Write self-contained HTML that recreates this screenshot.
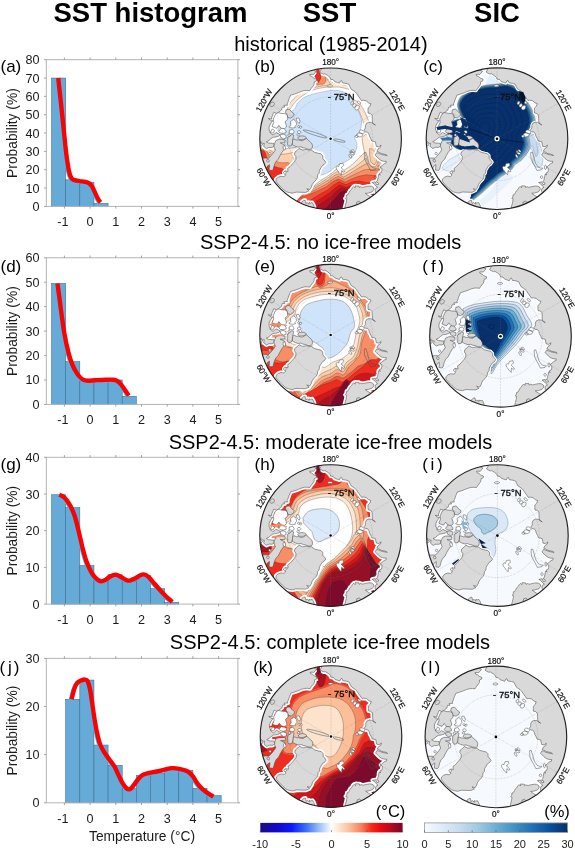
<!DOCTYPE html>
<html lang="en"><head><meta charset="utf-8"><title>SST histogram, SST and SIC</title>
<style>html,body{margin:0;padding:0;background:#fff}svg{display:block}text{font-family:"Liberation Sans", Arial, sans-serif;fill:#1a1a1a}.h1{font-size:27.5px;font-weight:bold;fill:#000}.rt{font-size:20px;fill:#000}.tl{font-size:12.6px}.yl{font-size:13.8px}.tag{font-size:17px;fill:#000}.ml{font-size:8.2px;fill:#111;stroke:#111;stroke-width:0.2px}.ml75{font-size:9.4px;fill:#111;stroke:#111;stroke-width:0.35px}.cb{font-size:11px}.un{font-size:16.5px;fill:#000}</style></head><body>
<svg width="575" height="848" viewBox="0 0 575 848">
<defs><clipPath id="mclip"><circle r="70.80"/></clipPath>
<linearGradient id="gsst" x1="0" x2="1" y1="0" y2="0"><stop offset="0" stop-color="#1a0a8c"/><stop offset="0.12" stop-color="#1208c8"/><stop offset="0.22" stop-color="#0a1aff"/><stop offset="0.32" stop-color="#3c6cf8"/><stop offset="0.4" stop-color="#8ab4f6"/><stop offset="0.47" stop-color="#dbe9fb"/><stop offset="0.5" stop-color="#ffffff"/><stop offset="0.55" stop-color="#fde6d3"/><stop offset="0.63" stop-color="#fbbc98"/><stop offset="0.71" stop-color="#f8805e"/><stop offset="0.78" stop-color="#f52a1a"/><stop offset="0.84" stop-color="#ec0a10"/><stop offset="0.91" stop-color="#bb0a1e"/><stop offset="1" stop-color="#78062b"/></linearGradient>
<linearGradient id="gsic" x1="0" x2="1" y1="0" y2="0"><stop offset="0" stop-color="#f7fbff"/><stop offset="0.125" stop-color="#deebf7"/><stop offset="0.25" stop-color="#c6dbef"/><stop offset="0.375" stop-color="#9ecae1"/><stop offset="0.5" stop-color="#6baed6"/><stop offset="0.625" stop-color="#4292c6"/><stop offset="0.75" stop-color="#2171b5"/><stop offset="0.875" stop-color="#08519c"/><stop offset="1" stop-color="#08306b"/></linearGradient>
<path id="landhalo" d="M-8.8,-71.7L-9.7,-68.7L-10.9,-66.7L-9.5,-65.7L-7.0,-64.6L-5.7,-65.0L-2.8,-63.2L-0.5,-61.2L0.0,-59.5L2.6,-59.1L4.0,-57.3L6.9,-56.2L8.8,-55.6L9.9,-57.8L11.0,-58.2L11.9,-55.9L15.4,-55.4L18.2,-54.5L19.1,-52.4L20.6,-49.6L24.1,-47.4L25.8,-45.5L28.3,-41.9L30.9,-38.2L32.8,-38.5L35.5,-38.0L38.2,-35.7L40.3,-35.1L39.3,-32.4L37.4,-30.6L37.4,-28.2L37.5,-25.7L39.8,-25.3L41.5,-23.5L41.6,-20.3L41.7,-18.1L42.0,-15.7L44.8,-13.7L43.4,-14.5L40.6,-16.4L38.1,-16.4L36.0,-15.6L34.8,-13.3L34.8,-10.6L33.3,-8.5L34.9,-6.8L36.9,-6.8L38.4,-4.7L38.8,-2.7L40.3,0.0L41.1,2.2L43.1,2.6L44.8,3.1L45.7,7.6L48.2,8.0L50.5,6.4L49.8,8.6L47.5,10.1L46.3,12.6L48.2,13.4L50.7,14.8L55.5,15.9L56.7,16.9L51.1,15.7L47.6,14.3L46.0,13.9L44.6,16.3L45.9,17.6L48.1,19.9L50.4,21.6L53.2,22.6L55.7,22.5L55.6,24.2L53.6,25.0L51.5,26.8L49.8,28.2L51.2,29.8L51.3,31.7L50.8,33.6L49.0,34.3L49.1,35.6L49.8,36.1L48.0,35.6L47.6,38.5L46.9,41.5L45.7,43.3L47.5,43.9L48.0,45.5L45.9,45.9L44.7,43.1L41.5,43.8L43.3,44.9L45.4,47.3L47.0,48.6L45.1,49.6L44.5,51.2L44.8,53.3L46.3,55.1L45.4,58.1L42.3,59.3L40.3,58.2L37.5,56.6L34.7,54.6L37.7,54.3L41.5,53.1L43.3,50.7L42.9,48.8L40.9,47.5L38.3,47.3L34.8,47.9L32.2,48.6L30.0,48.0L28.7,48.8L28.4,47.3L26.2,47.2L24.8,47.0L24.5,49.1L23.1,47.7L21.8,49.0L20.8,50.8L19.2,52.3L18.5,53.8L17.1,56.1L16.1,56.1L15.7,58.6L14.7,59.7L16.1,60.2L15.7,63.0L14.9,66.2L14.1,69.4L13.4,72.5L15.9,90.2L21.8,89.0L27.5,87.3L33.2,85.3L38.7,83.0L30.6,67.1L30.3,64.0L28.5,62.4L26.2,63.3L25.8,65.9L26.7,68.7L45.8,79.3L58.1,70.8L68.8,60.4L77.8,48.4L84.6,35.0L89.2,20.8L91.4,6.0L91.1,-9.0L88.5,-23.7L83.4,-37.8L76.1,-50.9L66.8,-62.6L55.7,-72.7L43.2,-80.8L29.4,-86.7L14.9,-90.4L0.0,-91.6L-1.6,-91.6L-4.8,-91.4L-8.0,-91.2L-11.2,-90.9ZM-18.7,-69.8L-16.4,-68.3L-14.4,-67.5L-17.2,-64.2L-18.5,-64.4L-20.9,-64.3L-20.4,-62.9L-18.5,-62.3L-16.8,-60.7L-13.9,-59.5L-14.2,-57.8L-16.3,-56.9L-16.6,-54.4L-17.6,-52.6L-19.7,-50.0L-20.9,-48.0L-23.6,-48.3L-26.2,-48.2L-29.5,-47.3L-32.3,-46.1L-36.2,-44.7L-40.0,-43.6L-41.5,-40.1L-42.9,-36.0L-43.6,-34.7L-43.0,-33.6L-46.8,-33.4L-45.8,-31.7L-48.4,-31.5L-49.0,-28.9L-52.0,-26.5L-54.2,-25.3L-56.8,-26.5L-58.9,-21.4L-58.9,-19.7L-62.3,-20.3L-59.4,-18.1L-57.8,-18.2L-60.2,-15.0L-61.5,-12.0L-61.5,-8.6L-60.7,-8.0L-60.4,-5.8L-57.6,-3.8L-54.5,-6.2L-51.8,-5.0L-50.4,-4.0L-51.9,-2.7L-54.8,-1.9L-57.7,-1.5L-59.8,0.0L-62.0,1.9L-64.3,3.0L-61.9,4.3L-58.4,4.5L-56.7,4.6L-56.4,7.4L-58.5,8.7L-61.5,8.6L-64.2,9.8L-66.9,7.6L-66.3,4.6L-67.7,4.7L-69.3,3.0L-72.2,3.8L-91.6,0.0L-90.4,-14.9L-86.7,-29.4L-80.8,-43.2L-72.7,-55.7L-62.6,-66.8L-50.9,-76.1L-37.8,-83.4L-23.7,-88.5ZM-31.6,9.6L-28.0,11.3L-25.7,10.9L-24.3,10.6L-21.9,11.2L-19.3,11.2L-16.0,13.5L-12.2,14.5L-9.7,15.0L-7.9,16.9L-7.8,19.7L-5.7,22.2L-4.8,23.5L-6.4,25.7L-8.2,26.7L-9.8,29.2L-11.2,31.6L-11.5,34.5L-13.0,36.1L-13.1,38.5L-14.4,41.0L-16.6,43.2L-18.4,45.6L-19.3,48.3L-20.8,50.8L-23.9,50.0L-21.5,52.0L-25.0,53.6L-29.7,53.5L-34.6,53.3L-38.1,54.4L-41.3,53.9L-44.4,52.9L-48.1,49.8L-51.5,46.4L-54.6,42.7L-54.6,40.4L-52.4,38.4L-49.6,37.4L-46.7,37.8L-45.1,36.5L-46.5,33.8L-45.3,32.0L-42.6,32.7L-42.9,29.5L-40.5,27.8L-38.6,25.6L-36.7,23.4L-34.8,20.9L-34.7,17.7L-36.2,15.7L-35.7,13.3L-33.3,11.5ZM-16.6,71.8L-16.4,68.0L-17.5,65.3L-18.5,63.8L-20.3,64.3L-21.6,63.7L-21.5,65.3L-23.6,63.7L-24.8,64.7L-25.1,63.4L-25.5,61.5L-26.9,61.7L-28.8,63.1L-30.0,67.4Z" fill="none" stroke="#ffffff" stroke-linejoin="round"/>
<path id="landmain" d="M-8.8,-71.7L-9.7,-68.7L-10.9,-66.7L-9.5,-65.7L-7.0,-64.6L-5.7,-65.0L-2.8,-63.2L-0.5,-61.2L0.0,-59.5L2.6,-59.1L4.0,-57.3L6.9,-56.2L8.8,-55.6L9.9,-57.8L11.0,-58.2L11.9,-55.9L15.4,-55.4L18.2,-54.5L19.1,-52.4L20.6,-49.6L24.1,-47.4L25.8,-45.5L28.3,-41.9L30.9,-38.2L32.8,-38.5L35.5,-38.0L38.2,-35.7L40.3,-35.1L39.3,-32.4L37.4,-30.6L37.4,-28.2L37.5,-25.7L39.8,-25.3L41.5,-23.5L41.6,-20.3L41.7,-18.1L42.0,-15.7L44.8,-13.7L43.4,-14.5L40.6,-16.4L38.1,-16.4L36.0,-15.6L34.8,-13.3L34.8,-10.6L33.3,-8.5L34.9,-6.8L36.9,-6.8L38.4,-4.7L38.8,-2.7L40.3,0.0L41.1,2.2L43.1,2.6L44.8,3.1L45.7,7.6L48.2,8.0L50.5,6.4L49.8,8.6L47.5,10.1L46.3,12.6L48.2,13.4L50.7,14.8L55.5,15.9L56.7,16.9L51.1,15.7L47.6,14.3L46.0,13.9L44.6,16.3L45.9,17.6L48.1,19.9L50.4,21.6L53.2,22.6L55.7,22.5L55.6,24.2L53.6,25.0L51.5,26.8L49.8,28.2L51.2,29.8L51.3,31.7L50.8,33.6L49.0,34.3L49.1,35.6L49.8,36.1L48.0,35.6L47.6,38.5L46.9,41.5L45.7,43.3L47.5,43.9L48.0,45.5L45.9,45.9L44.7,43.1L41.5,43.8L43.3,44.9L45.4,47.3L47.0,48.6L45.1,49.6L44.5,51.2L44.8,53.3L46.3,55.1L45.4,58.1L42.3,59.3L40.3,58.2L37.5,56.6L34.7,54.6L37.7,54.3L41.5,53.1L43.3,50.7L42.9,48.8L40.9,47.5L38.3,47.3L34.8,47.9L32.2,48.6L30.0,48.0L28.7,48.8L28.4,47.3L26.2,47.2L24.8,47.0L24.5,49.1L23.1,47.7L21.8,49.0L20.8,50.8L19.2,52.3L18.5,53.8L17.1,56.1L16.1,56.1L15.7,58.6L14.7,59.7L16.1,60.2L15.7,63.0L14.9,66.2L14.1,69.4L13.4,72.5L15.9,90.2L21.8,89.0L27.5,87.3L33.2,85.3L38.7,83.0L30.6,67.1L30.3,64.0L28.5,62.4L26.2,63.3L25.8,65.9L26.7,68.7L45.8,79.3L58.1,70.8L68.8,60.4L77.8,48.4L84.6,35.0L89.2,20.8L91.4,6.0L91.1,-9.0L88.5,-23.7L83.4,-37.8L76.1,-50.9L66.8,-62.6L55.7,-72.7L43.2,-80.8L29.4,-86.7L14.9,-90.4L0.0,-91.6L-1.6,-91.6L-4.8,-91.4L-8.0,-91.2L-11.2,-90.9ZM-18.7,-69.8L-16.4,-68.3L-14.4,-67.5L-17.2,-64.2L-18.5,-64.4L-20.9,-64.3L-20.4,-62.9L-18.5,-62.3L-16.8,-60.7L-13.9,-59.5L-14.2,-57.8L-16.3,-56.9L-16.6,-54.4L-17.6,-52.6L-19.7,-50.0L-20.9,-48.0L-23.6,-48.3L-26.2,-48.2L-29.5,-47.3L-32.3,-46.1L-36.2,-44.7L-40.0,-43.6L-41.5,-40.1L-42.9,-36.0L-43.6,-34.7L-43.0,-33.6L-46.8,-33.4L-45.8,-31.7L-48.4,-31.5L-49.0,-28.9L-52.0,-26.5L-54.2,-25.3L-56.8,-26.5L-58.9,-21.4L-58.9,-19.7L-62.3,-20.3L-59.4,-18.1L-57.8,-18.2L-60.2,-15.0L-61.5,-12.0L-61.5,-8.6L-60.7,-8.0L-60.4,-5.8L-57.6,-3.8L-54.5,-6.2L-51.8,-5.0L-50.4,-4.0L-51.9,-2.7L-54.8,-1.9L-57.7,-1.5L-59.8,0.0L-62.0,1.9L-64.3,3.0L-61.9,4.3L-58.4,4.5L-56.7,4.6L-56.4,7.4L-58.5,8.7L-61.5,8.6L-64.2,9.8L-66.9,7.6L-66.3,4.6L-67.7,4.7L-69.3,3.0L-72.2,3.8L-91.6,0.0L-90.4,-14.9L-86.7,-29.4L-80.8,-43.2L-72.7,-55.7L-62.6,-66.8L-50.9,-76.1L-37.8,-83.4L-23.7,-88.5ZM-31.6,9.6L-28.0,11.3L-25.7,10.9L-24.3,10.6L-21.9,11.2L-19.3,11.2L-16.0,13.5L-12.2,14.5L-9.7,15.0L-7.9,16.9L-7.8,19.7L-5.7,22.2L-4.8,23.5L-6.4,25.7L-8.2,26.7L-9.8,29.2L-11.2,31.6L-11.5,34.5L-13.0,36.1L-13.1,38.5L-14.4,41.0L-16.6,43.2L-18.4,45.6L-19.3,48.3L-20.8,50.8L-23.9,50.0L-21.5,52.0L-25.0,53.6L-29.7,53.5L-34.6,53.3L-38.1,54.4L-41.3,53.9L-44.4,52.9L-48.1,49.8L-51.5,46.4L-54.6,42.7L-54.6,40.4L-52.4,38.4L-49.6,37.4L-46.7,37.8L-45.1,36.5L-46.5,33.8L-45.3,32.0L-42.6,32.7L-42.9,29.5L-40.5,27.8L-38.6,25.6L-36.7,23.4L-34.8,20.9L-34.7,17.7L-36.2,15.7L-35.7,13.3L-33.3,11.5ZM-16.6,71.8L-16.4,68.0L-17.5,65.3L-18.5,63.8L-20.3,64.3L-21.6,63.7L-21.5,65.3L-23.6,63.7L-24.8,64.7L-25.1,63.4L-25.5,61.5L-26.9,61.7L-28.8,63.1L-30.0,67.4Z" fill="#d9d9d9" stroke="#4a4a4a" stroke-width="0.55" stroke-linejoin="round"/>
<path id="Lellesmere" d="M-38.1,0.7L-38.2,3.3L-38.2,6.0L-35.7,7.3L-32.5,8.4L-29.7,8.0L-27.3,9.1L-25.5,9.3L-22.9,10.4L-19.7,10.5L-18.4,9.4L-18.1,6.6L-19.0,4.4L-20.7,2.9L-22.3,1.6L-24.0,-0.4L-26.5,0.9L-27.9,1.9L-29.9,1.8L-32.1,1.1L-34.1,1.2L-36.4,0.3Z" stroke="#4a4a4a" stroke-width="0.55" stroke-linejoin="round"/>
<path id="Laxel" d="M-33.0,-0.6L-31.2,-2.5L-28.6,-3.0L-26.1,-2.5L-24.3,-1.3L-25.1,-0.2L-27.1,0.7L-29.3,0.9L-31.3,0.7Z" stroke="#4a4a4a" stroke-width="0.55" stroke-linejoin="round"/>
<path id="Ldevon" d="M-39.2,6.9L-38.2,4.0L-37.8,0.3L-37.1,-2.6L-36.8,-3.5L-38.7,-4.4L-40.5,-2.8L-43.2,-1.1L-43.4,2.3L-43.0,6.0L-42.0,7.4Z" stroke="#4a4a4a" stroke-width="0.55" stroke-linejoin="round"/>
<path id="Lbaffin" d="M-45.4,1.2L-45.8,4.0L-50.4,4.0L-45.6,6.4L-45.7,9.3L-47.0,11.3L-48.7,13.5L-50.7,17.0L-52.4,20.6L-54.7,22.7L-56.3,26.2L-57.4,30.5L-58.4,31.7L-61.5,31.3L-61.1,26.0L-63.3,27.5L-65.2,31.1L-82.3,40.1L-84.3,35.8L-86.1,31.3L-87.6,26.8L-88.9,22.2L-69.8,18.7L-67.1,19.5L-65.1,19.3L-62.0,19.5L-59.7,17.1L-57.4,14.3L-55.2,11.2L-56.7,7.5L-56.1,4.9L-54.8,1.9L-52.0,0.5L-49.2,0.4Z" stroke="#4a4a4a" stroke-width="0.55" stroke-linejoin="round"/>
<path id="Lsouthampton" d="M-71.9,7.6L-69.3,7.0L-67.9,5.9L-69.2,4.2L-72.2,3.8Z" stroke="#4a4a4a" stroke-width="0.55" stroke-linejoin="round"/>
<path id="Lbanks" d="M-44.6,-29.0L-41.3,-29.7L-38.6,-26.5L-36.3,-24.9L-37.1,-22.7L-39.8,-20.7L-42.7,-21.3L-44.0,-24.9L-45.1,-26.5Z" stroke="#4a4a4a" stroke-width="0.55" stroke-linejoin="round"/>
<path id="Lvictoria" d="M-55.1,-24.5L-52.5,-26.2L-48.7,-25.3L-45.5,-25.2L-43.2,-23.5L-42.9,-19.6L-45.5,-17.0L-44.3,-13.5L-44.2,-11.8L-46.8,-9.5L-49.5,-10.5L-51.7,-13.4L-53.9,-10.5L-56.6,-11.5L-58.5,-12.4L-56.9,-16.3L-57.3,-19.7Z" stroke="#4a4a4a" stroke-width="0.55" stroke-linejoin="round"/>
<path id="Lpwales" d="M-51.8,-7.3L-49.5,-10.5L-46.6,-10.3L-44.5,-7.8L-44.5,-6.1L-47.4,-5.4L-50.3,-5.7Z" stroke="#4a4a4a" stroke-width="0.55" stroke-linejoin="round"/>
<path id="Lsomerset" d="M-50.4,-4.0L-47.5,-4.7L-44.5,-3.5L-44.6,-0.8L-47.2,0.0L-50.0,-1.7Z" stroke="#4a4a4a" stroke-width="0.55" stroke-linejoin="round"/>
<g id="landisl"><path d="M-41.6,-5.9L-41.2,-8.4L-38.1,-9.4L-36.5,-7.1L-37.2,-5.2L-39.4,-5.2ZM-41.8,-12.0L-39.8,-13.7L-40.3,-17.1L-37.3,-19.4L-35.6,-18.4L-34.5,-16.8L-34.0,-14.4L-35.7,-12.3L-35.1,-11.4L-37.7,-10.8L-40.0,-11.1ZM-33.9,-20.8L-31.7,-20.6L-30.5,-17.6L-31.4,-15.3L-33.3,-17.3L-34.3,-19.0ZM-60.3,-6.3L-58.4,-9.8L-56.0,-8.4L-57.2,-5.7ZM10.7,36.2L8.5,33.9L7.4,32.2L6.2,31.0L5.4,28.5L6.8,27.4L8.0,27.9L8.5,26.3L9.1,24.9L12.4,24.4L13.0,26.6L12.0,27.7L10.5,28.9L11.8,29.9L13.2,31.5L14.0,32.7L12.7,33.2L11.1,31.7L10.8,33.3L10.8,34.7ZM20.7,19.3L20.0,19.2L19.2,18.4L18.5,17.3L18.3,16.1L18.6,15.5L19.3,15.6L20.2,16.3L20.8,17.5L21.0,18.7ZM23.7,15.5L23.1,15.9L21.8,15.7L20.5,15.1L19.5,14.3L19.3,13.5L20.0,13.2L21.2,13.4L22.6,14.0L23.5,14.8ZM24.0,13.4L23.4,13.6L22.5,13.3L21.6,12.6L21.1,11.8L21.2,11.1L21.8,10.9L22.7,11.2L23.5,11.9L24.1,12.8ZM21.3,13.5L20.8,13.8L20.2,13.7L19.6,13.3L19.2,12.7L19.2,12.3L19.7,12.0L20.3,12.1L20.9,12.5L21.3,13.1ZM32.3,-4.2L31.8,-3.0L30.3,-2.1L28.4,-1.8L26.7,-2.3L25.9,-3.4L26.4,-4.7L27.9,-5.6L29.8,-5.8L31.5,-5.3ZM33.6,-6.1L32.8,-5.3L31.4,-5.0L29.8,-5.5L28.8,-6.5L28.6,-7.7L29.4,-8.5L30.9,-8.8L32.4,-8.3L33.4,-7.3ZM27.8,-2.7L27.6,-1.9L26.8,-1.4L25.7,-1.3L24.8,-1.7L24.4,-2.4L24.7,-3.1L25.5,-3.6L26.5,-3.7L27.4,-3.4ZM28.3,-33.1L28.8,-31.9L28.5,-30.5L27.5,-29.3L26.1,-28.7L24.9,-29.1L24.3,-30.3L24.6,-31.7L25.6,-33.0L27.0,-33.5ZM24.9,-34.9L25.4,-34.1L25.3,-33.0L24.6,-32.0L23.5,-31.5L22.6,-31.7L22.1,-32.5L22.2,-33.6L23.0,-34.6L24.0,-35.1ZM22.5,-37.5L22.9,-36.8L22.8,-35.7L22.2,-34.7L21.3,-34.0L20.5,-34.1L20.1,-34.8L20.2,-35.9L20.8,-36.9L21.7,-37.5ZM29.0,-37.1L29.8,-36.2L30.0,-35.4L29.6,-34.8L28.7,-34.8L27.7,-35.4L26.9,-36.3L26.6,-37.2L27.0,-37.7L28.0,-37.7ZM-0.5,-53.9L1.1,-53.7L2.0,-53.2L2.0,-52.6L1.1,-52.1L-0.5,-51.9L-2.0,-52.0L-2.9,-52.5L-2.9,-53.2L-2.0,-53.7ZM-33.2,-7.1L-32.7,-7.8L-31.7,-8.1L-30.6,-7.9L-29.9,-7.2L-29.7,-6.3L-30.2,-5.6L-31.2,-5.3L-32.3,-5.5L-33.1,-6.2ZM-33.8,-4.0L-33.5,-4.6L-32.8,-4.9L-32.0,-4.8L-31.4,-4.3L-31.2,-3.7L-31.5,-3.2L-32.2,-2.9L-33.0,-3.0L-33.6,-3.4ZM-33.0,-12.7L-32.6,-13.1L-31.9,-13.3L-31.2,-13.0L-30.7,-12.4L-30.7,-11.8L-31.2,-11.3L-31.9,-11.2L-32.5,-11.5L-33.0,-12.0ZM-30.9,-12.0L-30.4,-12.7L-29.8,-12.9L-29.2,-12.7L-28.9,-12.1L-29.0,-11.3L-29.5,-10.7L-30.1,-10.4L-30.7,-10.6L-31.0,-11.3ZM-42.8,-3.7L-42.5,-4.4L-41.9,-4.8L-41.1,-4.7L-40.6,-4.3L-40.4,-3.5L-40.7,-2.9L-41.3,-2.5L-42.1,-2.5L-42.6,-3.0ZM-46.8,34.6L-47.0,33.8L-46.8,33.1L-46.1,32.6L-45.3,32.6L-44.7,33.1L-44.4,33.8L-44.7,34.6L-45.3,35.1L-46.1,35.1ZM-47.5,9.2L-47.5,7.9L-47.1,7.0L-46.3,6.9L-45.6,7.5L-45.1,8.8L-45.1,10.1L-45.5,11.0L-46.3,11.1L-47.0,10.5ZM-62.0,15.1L-62.0,14.4L-61.5,13.8L-60.8,13.6L-60.1,13.9L-59.7,14.6L-59.8,15.3L-60.2,15.9L-61.0,16.0L-61.6,15.8Z" fill="#ffffff" stroke="#4a4a4a" stroke-width="0.5" stroke-linejoin="round"/><path d="M45.9,29.5L44.5,31.1L42.5,31.4L40.0,31.8L39.0,29.9L37.9,27.6L36.8,25.7L35.3,22.9L34.1,20.5L33.9,18.0L33.7,15.7L33.7,13.8L35.3,13.5L35.8,15.2L36.9,18.4L37.6,21.7L38.6,24.6L39.8,26.3L41.2,28.3L43.6,29.4ZM48.5,30.8L47.9,30.4L47.6,29.3L47.6,27.9L47.9,26.8L48.5,26.4L49.1,26.8L49.5,27.9L49.5,29.3L49.1,30.4ZM45.6,39.3L44.9,39.8L44.1,39.7L43.5,39.2L43.3,38.4L43.6,37.6L44.3,37.2L45.1,37.3L45.7,37.8L45.9,38.6ZM-59.8,-36.0L-58.3,-36.7L-57.0,-36.5L-56.2,-35.5L-56.3,-34.2L-57.2,-32.9L-58.6,-32.2L-60.0,-32.4L-60.8,-33.4L-60.7,-34.7ZM-64.0,22.3L-64.0,21.4L-63.6,20.6L-62.8,20.4L-62.0,20.7L-61.5,21.4L-61.4,22.3L-61.9,23.1L-62.6,23.3L-63.4,23.0Z" fill="none" stroke="#4a4a4a" stroke-width="0.5" stroke-linejoin="round"/></g>
</defs>
<rect width="575" height="848" fill="#fff"/>
<text x="150.5" y="21.6" class="h1" text-anchor="middle">SST histogram</text>
<text x="329.5" y="21.6" class="h1" text-anchor="middle">SST</text>
<text x="497" y="21.6" class="h1" text-anchor="middle">SIC</text>
<text x="330.9" y="50.6" class="rt" text-anchor="middle">historical (1985-2014)</text>
<text x="330.6" y="249.3" class="rt" text-anchor="middle">SSP2-4.5: no ice-free models</text>
<text x="330.4" y="449.3" class="rt" text-anchor="middle">SSP2-4.5: moderate ice-free models</text>
<text x="329.9" y="649.3" class="rt" text-anchor="middle">SSP2-4.5: complete ice-free models</text>
<g>
<rect x="51.55" y="78.04" width="14.14" height="128.36" fill="#66aad7" stroke="#3d6a8e" stroke-width="0.55"/>
<rect x="65.69" y="179.81" width="14.13" height="26.59" fill="#66aad7" stroke="#3d6a8e" stroke-width="0.55"/>
<rect x="79.82" y="182.19" width="14.14" height="24.21" fill="#66aad7" stroke="#3d6a8e" stroke-width="0.55"/>
<rect x="93.95" y="203.47" width="14.14" height="2.93" fill="#66aad7" stroke="#3d6a8e" stroke-width="0.55"/>
<rect x="46.30" y="59.70" width="191.60" height="146.70" fill="none" stroke="#b4b4b4" stroke-width="1"/>
<path d="M64.40,206.40v2.2M64.40,59.70v-2.2M90.10,206.40v2.2M90.10,59.70v-2.2M115.80,206.40v2.2M115.80,59.70v-2.2M141.50,206.40v2.2M141.50,59.70v-2.2M167.20,206.40v2.2M167.20,59.70v-2.2M192.90,206.40v2.2M192.90,59.70v-2.2M218.60,206.40v2.2M218.60,59.70v-2.2M46.30,206.40h-2.2M237.90,206.40h2.2M46.30,188.06h-2.2M237.90,188.06h2.2M46.30,169.73h-2.2M237.90,169.73h2.2M46.30,151.39h-2.2M237.90,151.39h2.2M46.30,133.05h-2.2M237.90,133.05h2.2M46.30,114.71h-2.2M237.90,114.71h2.2M46.30,96.38h-2.2M237.90,96.38h2.2M46.30,78.04h-2.2M237.90,78.04h2.2M46.30,59.70h-2.2M237.90,59.70h2.2" stroke="#8c8c8c" stroke-width="0.8" fill="none"/>
<path d="M58.23,78.04C58.66,82.01 59.92,93.62 60.80,101.88C61.68,110.13 62.67,119.54 63.50,127.55C64.34,135.56 65.11,143.81 65.81,149.92C66.52,156.03 67.12,160.31 67.74,164.22C68.36,168.14 68.90,171.04 69.54,173.39C70.18,175.75 70.74,177.21 71.60,178.34C72.45,179.47 73.39,179.72 74.68,180.18C75.96,180.64 77.59,180.82 79.31,181.09C81.02,181.37 83.38,181.49 84.96,181.83C86.54,182.16 87.62,182.32 88.81,183.11C90.01,183.91 90.96,184.64 92.16,186.60C93.36,188.55 94.94,192.65 96.01,194.85C97.08,197.05 97.85,198.55 98.58,199.80C99.31,201.05 100.08,201.94 100.38,202.37" fill="none" stroke="#2fc4ff" stroke-width="4.3" stroke-linecap="butt" stroke-linejoin="round" transform="translate(-0.7,0.6)"/>
<path d="M58.23,78.04C58.66,82.01 59.92,93.62 60.80,101.88C61.68,110.13 62.67,119.54 63.50,127.55C64.34,135.56 65.11,143.81 65.81,149.92C66.52,156.03 67.12,160.31 67.74,164.22C68.36,168.14 68.90,171.04 69.54,173.39C70.18,175.75 70.74,177.21 71.60,178.34C72.45,179.47 73.39,179.72 74.68,180.18C75.96,180.64 77.59,180.82 79.31,181.09C81.02,181.37 83.38,181.49 84.96,181.83C86.54,182.16 87.62,182.32 88.81,183.11C90.01,183.91 90.96,184.64 92.16,186.60C93.36,188.55 94.94,192.65 96.01,194.85C97.08,197.05 97.85,198.55 98.58,199.80C99.31,201.05 100.08,201.94 100.38,202.37" fill="none" stroke="#ff0000" stroke-width="4.4" stroke-linecap="butt" stroke-linejoin="round"/>
<text x="62.90" y="226.40" class="tl" text-anchor="middle">-1</text>
<text x="90.10" y="226.40" class="tl" text-anchor="middle">0</text>
<text x="115.80" y="226.40" class="tl" text-anchor="middle">1</text>
<text x="141.50" y="226.40" class="tl" text-anchor="middle">2</text>
<text x="167.20" y="226.40" class="tl" text-anchor="middle">3</text>
<text x="192.90" y="226.40" class="tl" text-anchor="middle">4</text>
<text x="218.60" y="226.40" class="tl" text-anchor="middle">5</text>
<text x="39.50" y="210.90" class="tl" text-anchor="end">0</text>
<text x="39.50" y="192.56" class="tl" text-anchor="end">10</text>
<text x="39.50" y="174.23" class="tl" text-anchor="end">20</text>
<text x="39.50" y="155.89" class="tl" text-anchor="end">30</text>
<text x="39.50" y="137.55" class="tl" text-anchor="end">40</text>
<text x="39.50" y="119.21" class="tl" text-anchor="end">50</text>
<text x="39.50" y="100.88" class="tl" text-anchor="end">60</text>
<text x="39.50" y="82.54" class="tl" text-anchor="end">70</text>
<text x="39.50" y="64.20" class="tl" text-anchor="end">80</text>
<text transform="translate(17.2,133.05) rotate(-90)" class="yl" text-anchor="middle">Probability (%)</text>
<text x="0.5" y="72.4" class="tag">(a)</text>
</g>
<g>
<rect x="51.55" y="283.46" width="14.14" height="120.94" fill="#66aad7" stroke="#3d6a8e" stroke-width="0.55"/>
<rect x="65.69" y="361.64" width="14.13" height="42.76" fill="#66aad7" stroke="#3d6a8e" stroke-width="0.55"/>
<rect x="79.82" y="381.19" width="14.14" height="23.21" fill="#66aad7" stroke="#3d6a8e" stroke-width="0.55"/>
<rect x="93.95" y="381.19" width="14.14" height="23.21" fill="#66aad7" stroke="#3d6a8e" stroke-width="0.55"/>
<rect x="108.09" y="379.97" width="14.13" height="24.43" fill="#66aad7" stroke="#3d6a8e" stroke-width="0.55"/>
<rect x="122.22" y="396.34" width="14.14" height="8.06" fill="#66aad7" stroke="#3d6a8e" stroke-width="0.55"/>
<rect x="46.30" y="257.80" width="191.60" height="146.60" fill="none" stroke="#b4b4b4" stroke-width="1"/>
<path d="M64.40,404.40v2.2M64.40,257.80v-2.2M90.10,404.40v2.2M90.10,257.80v-2.2M115.80,404.40v2.2M115.80,257.80v-2.2M141.50,404.40v2.2M141.50,257.80v-2.2M167.20,404.40v2.2M167.20,257.80v-2.2M192.90,404.40v2.2M192.90,257.80v-2.2M218.60,404.40v2.2M218.60,257.80v-2.2M46.30,404.40h-2.2M237.90,404.40h2.2M46.30,379.97h-2.2M237.90,379.97h2.2M46.30,355.53h-2.2M237.90,355.53h2.2M46.30,331.10h-2.2M237.90,331.10h2.2M46.30,306.67h-2.2M237.90,306.67h2.2M46.30,282.23h-2.2M237.90,282.23h2.2M46.30,257.80h-2.2M237.90,257.80h2.2" stroke="#8c8c8c" stroke-width="0.8" fill="none"/>
<path d="M57.46,283.46C57.76,285.69 58.53,291.40 59.26,296.89C59.99,302.39 60.97,310.33 61.83,316.44C62.69,322.55 63.33,327.64 64.40,333.54C65.47,339.45 66.97,346.78 68.25,351.87C69.54,356.96 70.61,360.42 72.11,364.08C73.61,367.75 75.54,371.33 77.25,373.86C78.96,376.38 80.68,378.09 82.39,379.23C84.10,380.37 85.39,380.54 87.53,380.70C89.67,380.86 92.24,380.37 95.24,380.21C98.24,380.05 102.52,379.80 105.52,379.72C108.52,379.64 111.30,379.52 113.23,379.72C115.16,379.93 115.80,380.17 117.08,380.94C118.37,381.72 119.66,382.90 120.94,384.36C122.22,385.83 123.51,387.87 124.79,389.74C126.08,391.61 128.01,394.63 128.65,395.60" fill="none" stroke="#2fc4ff" stroke-width="4.3" stroke-linecap="butt" stroke-linejoin="round" transform="translate(-0.7,0.6)"/>
<path d="M57.46,283.46C57.76,285.69 58.53,291.40 59.26,296.89C59.99,302.39 60.97,310.33 61.83,316.44C62.69,322.55 63.33,327.64 64.40,333.54C65.47,339.45 66.97,346.78 68.25,351.87C69.54,356.96 70.61,360.42 72.11,364.08C73.61,367.75 75.54,371.33 77.25,373.86C78.96,376.38 80.68,378.09 82.39,379.23C84.10,380.37 85.39,380.54 87.53,380.70C89.67,380.86 92.24,380.37 95.24,380.21C98.24,380.05 102.52,379.80 105.52,379.72C108.52,379.64 111.30,379.52 113.23,379.72C115.16,379.93 115.80,380.17 117.08,380.94C118.37,381.72 119.66,382.90 120.94,384.36C122.22,385.83 123.51,387.87 124.79,389.74C126.08,391.61 128.01,394.63 128.65,395.60" fill="none" stroke="#ff0000" stroke-width="4.4" stroke-linecap="butt" stroke-linejoin="round"/>
<text x="62.90" y="424.40" class="tl" text-anchor="middle">-1</text>
<text x="90.10" y="424.40" class="tl" text-anchor="middle">0</text>
<text x="115.80" y="424.40" class="tl" text-anchor="middle">1</text>
<text x="141.50" y="424.40" class="tl" text-anchor="middle">2</text>
<text x="167.20" y="424.40" class="tl" text-anchor="middle">3</text>
<text x="192.90" y="424.40" class="tl" text-anchor="middle">4</text>
<text x="218.60" y="424.40" class="tl" text-anchor="middle">5</text>
<text x="39.50" y="408.90" class="tl" text-anchor="end">0</text>
<text x="39.50" y="384.47" class="tl" text-anchor="end">10</text>
<text x="39.50" y="360.03" class="tl" text-anchor="end">20</text>
<text x="39.50" y="335.60" class="tl" text-anchor="end">30</text>
<text x="39.50" y="311.17" class="tl" text-anchor="end">40</text>
<text x="39.50" y="286.73" class="tl" text-anchor="end">50</text>
<text x="39.50" y="262.30" class="tl" text-anchor="end">60</text>
<text transform="translate(17.2,331.10) rotate(-90)" class="yl" text-anchor="middle">Probability (%)</text>
<text x="0.5" y="271.8" class="tag">(d)</text>
</g>
<g>
<rect x="51.55" y="494.73" width="14.14" height="109.37" fill="#66aad7" stroke="#3d6a8e" stroke-width="0.55"/>
<rect x="65.69" y="507.58" width="14.13" height="96.52" fill="#66aad7" stroke="#3d6a8e" stroke-width="0.55"/>
<rect x="79.82" y="565.57" width="14.14" height="38.53" fill="#66aad7" stroke="#3d6a8e" stroke-width="0.55"/>
<rect x="93.95" y="580.98" width="14.14" height="23.12" fill="#66aad7" stroke="#3d6a8e" stroke-width="0.55"/>
<rect x="108.09" y="574.74" width="14.13" height="29.36" fill="#66aad7" stroke="#3d6a8e" stroke-width="0.55"/>
<rect x="122.22" y="580.98" width="14.14" height="23.12" fill="#66aad7" stroke="#3d6a8e" stroke-width="0.55"/>
<rect x="136.36" y="575.47" width="14.13" height="28.63" fill="#66aad7" stroke="#3d6a8e" stroke-width="0.55"/>
<rect x="150.50" y="588.69" width="14.13" height="15.41" fill="#66aad7" stroke="#3d6a8e" stroke-width="0.55"/>
<rect x="164.63" y="602.26" width="14.13" height="1.84" fill="#66aad7" stroke="#3d6a8e" stroke-width="0.55"/>
<rect x="46.30" y="457.30" width="191.60" height="146.80" fill="none" stroke="#b4b4b4" stroke-width="1"/>
<path d="M64.40,604.10v2.2M64.40,457.30v-2.2M90.10,604.10v2.2M90.10,457.30v-2.2M115.80,604.10v2.2M115.80,457.30v-2.2M141.50,604.10v2.2M141.50,457.30v-2.2M167.20,604.10v2.2M167.20,457.30v-2.2M192.90,604.10v2.2M192.90,457.30v-2.2M218.60,604.10v2.2M218.60,457.30v-2.2M46.30,604.10h-2.2M237.90,604.10h2.2M46.30,567.40h-2.2M237.90,567.40h2.2M46.30,530.70h-2.2M237.90,530.70h2.2M46.30,494.00h-2.2M237.90,494.00h2.2M46.30,457.30h-2.2M237.90,457.30h2.2" stroke="#8c8c8c" stroke-width="0.8" fill="none"/>
<path d="M59.26,494.73C59.90,495.04 61.83,495.59 63.11,496.57C64.40,497.55 65.69,498.89 66.97,500.61C68.25,502.32 69.54,504.28 70.82,506.85C72.11,509.41 73.39,512.04 74.68,516.02C75.96,520.00 77.25,525.50 78.53,530.70C79.82,535.90 81.11,542.20 82.39,547.22C83.67,552.23 84.96,557.00 86.24,560.79C87.53,564.59 88.81,567.40 90.10,569.97C91.38,572.54 92.67,574.56 93.95,576.21C95.24,577.86 96.52,579.02 97.81,579.88C99.09,580.73 100.38,581.35 101.66,581.35C102.95,581.35 104.02,580.73 105.52,579.88C107.02,579.02 108.95,577.06 110.66,576.21C112.37,575.35 114.09,574.62 115.80,574.74C117.51,574.86 119.23,576.09 120.94,576.94C122.65,577.80 124.58,579.27 126.08,579.88C127.58,580.49 128.44,580.86 129.94,580.61C131.43,580.37 133.15,579.39 135.07,578.41C137.00,577.43 139.79,575.35 141.50,574.74C143.21,574.13 144.07,574.25 145.35,574.74C146.64,575.23 147.71,576.21 149.21,577.68C150.71,579.14 152.64,581.59 154.35,583.55C156.06,585.51 157.78,587.52 159.49,589.42C161.20,591.32 163.13,593.40 164.63,594.93C166.13,596.45 167.20,597.43 168.48,598.60C169.77,599.76 171.70,601.35 172.34,601.90" fill="none" stroke="#2fc4ff" stroke-width="4.3" stroke-linecap="butt" stroke-linejoin="round" transform="translate(-0.7,0.6)"/>
<path d="M59.26,494.73C59.90,495.04 61.83,495.59 63.11,496.57C64.40,497.55 65.69,498.89 66.97,500.61C68.25,502.32 69.54,504.28 70.82,506.85C72.11,509.41 73.39,512.04 74.68,516.02C75.96,520.00 77.25,525.50 78.53,530.70C79.82,535.90 81.11,542.20 82.39,547.22C83.67,552.23 84.96,557.00 86.24,560.79C87.53,564.59 88.81,567.40 90.10,569.97C91.38,572.54 92.67,574.56 93.95,576.21C95.24,577.86 96.52,579.02 97.81,579.88C99.09,580.73 100.38,581.35 101.66,581.35C102.95,581.35 104.02,580.73 105.52,579.88C107.02,579.02 108.95,577.06 110.66,576.21C112.37,575.35 114.09,574.62 115.80,574.74C117.51,574.86 119.23,576.09 120.94,576.94C122.65,577.80 124.58,579.27 126.08,579.88C127.58,580.49 128.44,580.86 129.94,580.61C131.43,580.37 133.15,579.39 135.07,578.41C137.00,577.43 139.79,575.35 141.50,574.74C143.21,574.13 144.07,574.25 145.35,574.74C146.64,575.23 147.71,576.21 149.21,577.68C150.71,579.14 152.64,581.59 154.35,583.55C156.06,585.51 157.78,587.52 159.49,589.42C161.20,591.32 163.13,593.40 164.63,594.93C166.13,596.45 167.20,597.43 168.48,598.60C169.77,599.76 171.70,601.35 172.34,601.90" fill="none" stroke="#ff0000" stroke-width="4.4" stroke-linecap="butt" stroke-linejoin="round"/>
<text x="62.90" y="624.10" class="tl" text-anchor="middle">-1</text>
<text x="90.10" y="624.10" class="tl" text-anchor="middle">0</text>
<text x="115.80" y="624.10" class="tl" text-anchor="middle">1</text>
<text x="141.50" y="624.10" class="tl" text-anchor="middle">2</text>
<text x="167.20" y="624.10" class="tl" text-anchor="middle">3</text>
<text x="192.90" y="624.10" class="tl" text-anchor="middle">4</text>
<text x="218.60" y="624.10" class="tl" text-anchor="middle">5</text>
<text x="39.50" y="608.60" class="tl" text-anchor="end">0</text>
<text x="39.50" y="571.90" class="tl" text-anchor="end">10</text>
<text x="39.50" y="535.20" class="tl" text-anchor="end">20</text>
<text x="39.50" y="498.50" class="tl" text-anchor="end">30</text>
<text x="39.50" y="461.80" class="tl" text-anchor="end">40</text>
<text transform="translate(17.2,530.70) rotate(-90)" class="yl" text-anchor="middle">Probability (%)</text>
<text x="0.5" y="470.4" class="tag">(g)</text>
</g>
<g>
<rect x="65.69" y="699.31" width="14.13" height="103.49" fill="#66aad7" stroke="#3d6a8e" stroke-width="0.55"/>
<rect x="79.82" y="680.06" width="14.14" height="122.74" fill="#66aad7" stroke="#3d6a8e" stroke-width="0.55"/>
<rect x="93.95" y="745.04" width="14.14" height="57.76" fill="#66aad7" stroke="#3d6a8e" stroke-width="0.55"/>
<rect x="108.09" y="765.26" width="14.13" height="37.54" fill="#66aad7" stroke="#3d6a8e" stroke-width="0.55"/>
<rect x="122.22" y="788.36" width="14.14" height="14.44" fill="#66aad7" stroke="#3d6a8e" stroke-width="0.55"/>
<rect x="136.36" y="775.36" width="14.13" height="27.44" fill="#66aad7" stroke="#3d6a8e" stroke-width="0.55"/>
<rect x="150.50" y="772.96" width="14.13" height="29.84" fill="#66aad7" stroke="#3d6a8e" stroke-width="0.55"/>
<rect x="164.63" y="769.11" width="14.13" height="33.69" fill="#66aad7" stroke="#3d6a8e" stroke-width="0.55"/>
<rect x="178.76" y="770.55" width="14.13" height="32.25" fill="#66aad7" stroke="#3d6a8e" stroke-width="0.55"/>
<rect x="192.90" y="788.36" width="14.14" height="14.44" fill="#66aad7" stroke="#3d6a8e" stroke-width="0.55"/>
<rect x="207.04" y="795.58" width="14.13" height="7.22" fill="#66aad7" stroke="#3d6a8e" stroke-width="0.55"/>
<rect x="46.30" y="658.40" width="191.60" height="144.40" fill="none" stroke="#b4b4b4" stroke-width="1"/>
<path d="M64.40,802.80v2.2M64.40,658.40v-2.2M90.10,802.80v2.2M90.10,658.40v-2.2M115.80,802.80v2.2M115.80,658.40v-2.2M141.50,802.80v2.2M141.50,658.40v-2.2M167.20,802.80v2.2M167.20,658.40v-2.2M192.90,802.80v2.2M192.90,658.40v-2.2M218.60,802.80v2.2M218.60,658.40v-2.2M46.30,802.80h-2.2M237.90,802.80h2.2M46.30,754.67h-2.2M237.90,754.67h2.2M46.30,706.53h-2.2M237.90,706.53h2.2M46.30,658.40h-2.2M237.90,658.40h2.2" stroke="#8c8c8c" stroke-width="0.8" fill="none"/>
<path d="M71.60,699.31C72.02,697.63 73.22,691.93 74.17,689.21C75.11,686.48 76.09,684.39 77.25,682.95C78.41,681.50 79.82,681.10 81.10,680.54C82.39,679.98 83.89,679.50 84.96,679.58C86.03,679.66 86.67,679.34 87.53,681.02C88.39,682.71 89.24,685.43 90.10,689.69C90.96,693.94 91.81,700.92 92.67,706.53C93.53,712.15 94.38,718.41 95.24,723.38C96.10,728.35 96.95,732.77 97.81,736.38C98.67,739.99 99.31,742.39 100.38,745.04C101.45,747.69 102.74,749.85 104.23,752.26C105.73,754.67 107.66,757.07 109.38,759.48C111.09,761.89 113.02,764.13 114.51,766.70C116.01,769.27 117.09,772.24 118.37,774.88C119.66,777.53 120.94,780.42 122.22,782.58C123.51,784.75 125.01,786.76 126.08,787.88C127.15,789.00 127.79,789.24 128.65,789.32C129.51,789.40 130.15,789.32 131.22,788.36C132.29,787.40 133.79,785.23 135.07,783.55C136.36,781.86 137.65,779.70 138.93,778.25C140.22,776.81 141.07,775.77 142.78,774.88C144.50,774.00 146.85,773.52 149.21,772.96C151.57,772.40 154.35,772.07 156.92,771.51C159.49,770.95 162.06,770.15 164.63,769.59C167.20,769.03 169.77,768.22 172.34,768.14C174.91,768.06 177.48,768.55 180.05,769.11C182.62,769.67 185.62,770.31 187.76,771.51C189.90,772.72 191.40,774.48 192.90,776.33C194.40,778.17 195.47,780.74 196.75,782.58C198.04,784.43 199.11,785.87 200.61,787.40C202.11,788.92 204.04,790.45 205.75,791.73C207.46,793.01 209.60,794.30 210.89,795.10C212.17,795.90 213.03,796.30 213.46,796.54" fill="none" stroke="#2fc4ff" stroke-width="4.3" stroke-linecap="butt" stroke-linejoin="round" transform="translate(-0.7,0.6)"/>
<path d="M71.60,699.31C72.02,697.63 73.22,691.93 74.17,689.21C75.11,686.48 76.09,684.39 77.25,682.95C78.41,681.50 79.82,681.10 81.10,680.54C82.39,679.98 83.89,679.50 84.96,679.58C86.03,679.66 86.67,679.34 87.53,681.02C88.39,682.71 89.24,685.43 90.10,689.69C90.96,693.94 91.81,700.92 92.67,706.53C93.53,712.15 94.38,718.41 95.24,723.38C96.10,728.35 96.95,732.77 97.81,736.38C98.67,739.99 99.31,742.39 100.38,745.04C101.45,747.69 102.74,749.85 104.23,752.26C105.73,754.67 107.66,757.07 109.38,759.48C111.09,761.89 113.02,764.13 114.51,766.70C116.01,769.27 117.09,772.24 118.37,774.88C119.66,777.53 120.94,780.42 122.22,782.58C123.51,784.75 125.01,786.76 126.08,787.88C127.15,789.00 127.79,789.24 128.65,789.32C129.51,789.40 130.15,789.32 131.22,788.36C132.29,787.40 133.79,785.23 135.07,783.55C136.36,781.86 137.65,779.70 138.93,778.25C140.22,776.81 141.07,775.77 142.78,774.88C144.50,774.00 146.85,773.52 149.21,772.96C151.57,772.40 154.35,772.07 156.92,771.51C159.49,770.95 162.06,770.15 164.63,769.59C167.20,769.03 169.77,768.22 172.34,768.14C174.91,768.06 177.48,768.55 180.05,769.11C182.62,769.67 185.62,770.31 187.76,771.51C189.90,772.72 191.40,774.48 192.90,776.33C194.40,778.17 195.47,780.74 196.75,782.58C198.04,784.43 199.11,785.87 200.61,787.40C202.11,788.92 204.04,790.45 205.75,791.73C207.46,793.01 209.60,794.30 210.89,795.10C212.17,795.90 213.03,796.30 213.46,796.54" fill="none" stroke="#ff0000" stroke-width="4.4" stroke-linecap="butt" stroke-linejoin="round"/>
<text x="62.90" y="822.80" class="tl" text-anchor="middle">-1</text>
<text x="90.10" y="822.80" class="tl" text-anchor="middle">0</text>
<text x="115.80" y="822.80" class="tl" text-anchor="middle">1</text>
<text x="141.50" y="822.80" class="tl" text-anchor="middle">2</text>
<text x="167.20" y="822.80" class="tl" text-anchor="middle">3</text>
<text x="192.90" y="822.80" class="tl" text-anchor="middle">4</text>
<text x="218.60" y="822.80" class="tl" text-anchor="middle">5</text>
<text x="39.50" y="807.30" class="tl" text-anchor="end">0</text>
<text x="39.50" y="759.17" class="tl" text-anchor="end">10</text>
<text x="39.50" y="711.03" class="tl" text-anchor="end">20</text>
<text x="39.50" y="662.90" class="tl" text-anchor="end">30</text>
<text transform="translate(17.2,730.60) rotate(-90)" class="yl" text-anchor="middle">Probability (%)</text>
<text x="-0.4" y="672.5" class="tag">(</text><text x="10.0" y="672.5" class="tag" text-anchor="middle">j</text><text x="19.4" y="672.5" class="tag" text-anchor="end">)</text>
</g>
<text x="142" y="841.4" class="yl" text-anchor="middle">Temperature (°C)</text>
<g transform="translate(330.60,138.80)">
<g clip-path="url(#mclip)">
<circle r="71.80" fill="#ffffff"/>
<path d="M-33.03,-35.74C-31.99,-36.65 -29.11,-39.83 -26.77,-41.24C-24.43,-42.66 -21.89,-43.35 -19.01,-44.25C-16.13,-45.15 -12.62,-45.96 -9.49,-46.63C-6.36,-47.30 -3.06,-47.99 -0.22,-48.26C2.61,-48.53 4.91,-48.67 7.54,-48.26C10.17,-47.84 13.47,-46.92 15.55,-45.75C17.64,-44.58 18.64,-42.91 20.06,-41.24C21.48,-39.58 22.90,-37.70 24.07,-35.74C25.24,-33.77 26.16,-31.56 27.07,-29.47C27.99,-27.39 28.91,-25.30 29.58,-23.21C30.25,-21.13 31.00,-19.12 31.08,-16.95C31.16,-14.78 30.66,-12.15 30.08,-10.19C29.50,-8.23 28.62,-6.64 27.58,-5.18C26.53,-3.72 24.03,-3.09 23.82,-1.43C23.61,0.24 26.11,2.54 26.32,4.84C26.53,7.13 25.91,10.05 25.07,12.35C24.24,14.64 23.19,16.73 21.31,18.61C19.44,20.49 16.10,22.37 13.80,23.62C11.51,24.87 9.42,25.08 7.54,26.12C5.66,27.17 4.20,28.63 2.53,29.88C0.86,31.13 -0.60,32.59 -2.48,33.64C-4.36,34.68 -7.07,35.93 -8.74,36.14C-10.41,36.35 -11.45,36.35 -12.49,34.89C-13.54,33.43 -13.33,30.71 -15.00,27.38C-16.67,24.04 -19.17,17.15 -22.51,14.85C-25.85,12.56 -31.28,15.06 -35.03,13.60C-38.79,12.14 -42.34,8.59 -45.05,6.09C-47.76,3.58 -50.06,1.29 -51.31,-1.43C-52.56,-4.14 -53.19,-7.27 -52.56,-10.19C-51.94,-13.11 -49.56,-16.24 -47.56,-18.96C-45.55,-21.67 -42.42,-24.72 -40.54,-26.47C-38.67,-28.22 -37.54,-27.93 -36.29,-29.47C-35.03,-31.02 -33.57,-34.69 -33.03,-35.74Z" fill="#cfe4fa" stroke="#5b6f86" stroke-width="0.3" stroke-linejoin="round"/>
<path d="M-36.2,64.9L-22.1,51.6L-15.9,46.2L-9.6,41.5L-3.3,37.5L1.4,34.4L4.5,31.3L8.4,29.7L11.5,32.9L14.7,30.5L18.6,28.2L23.3,24.2L28.0,19.5L32.7,14.9L35.8,11.7L38.9,5.5L41.3,-0.8L44.4,-7.1L86.0,30.0L60.0,80.0L0.0,95.0L-50.0,80.0Z" fill="#fde6d2" stroke="#3a2a22" stroke-width="0.3" stroke-linejoin="round"/>
<path d="M-37.8,66.5L-25.3,54.0L-17.4,48.5L-9.6,43.8L-2.6,39.1L3.7,34.4L6.8,32.9L12.3,36.0L17.0,32.9L23.3,28.9L29.5,24.2L34.2,20.3L38.9,18.0L44.4,14.9L48.3,8.6L86.0,30.0L60.0,80.0L0.0,95.0L-50.0,80.0Z" fill="#fbcfac" stroke="#3a2a22" stroke-width="0.3" stroke-linejoin="round"/>
<path d="M-39.3,68.1L-27.6,55.5L-19.0,50.9L-10.4,46.2L-2.6,41.5L3.7,36.8L7.6,35.2L13.1,38.3L18.6,35.2L24.8,31.3L31.1,27.4L35.8,25.0L42.1,24.2L48.3,22.7L86.0,30.0L60.0,80.0L0.0,95.0L-50.0,80.0Z" fill="#fbb28a" stroke="#3a2a22" stroke-width="0.3" stroke-linejoin="round"/>
<path d="M-40.1,69.6L-29.2,57.1L-19.8,53.2L-11.2,49.0L-3.3,44.6L2.9,39.9L7.6,37.5L13.9,40.7L20.1,37.5L26.4,34.4L32.7,31.3L38.9,30.5L44.4,31.3L49.9,30.5L86.0,30.0L60.0,80.0L0.0,95.0L-50.0,80.0Z" fill="#f98d66" stroke="#3a2a22" stroke-width="0.3" stroke-linejoin="round"/>
<path d="M-40.9,71.2L-30.7,58.7L-20.6,55.5L-11.9,51.6L-4.1,47.7L2.1,43.0L7.6,40.2L14.7,43.3L20.9,40.2L28.0,37.5L35.8,36.0L44.4,36.8L49.9,36.8L86.0,30.0L60.0,80.0L0.0,95.0L-50.0,80.0Z" fill="#f5593d" stroke="#3a2a22" stroke-width="0.3" stroke-linejoin="round"/>
<path d="M-29.9,68.1L-17.4,59.5L-9.6,54.8L-2.6,50.9L2.9,46.2L8.4,43.0L15.4,45.8L21.7,43.0L28.7,42.2L35.8,43.8L44.4,44.6L86.0,30.0L60.0,80.0L0.0,95.0L-50.0,80.0Z" fill="#ee2c20" stroke="#3a2a22" stroke-width="0.3" stroke-linejoin="round"/>
<path d="M-26.8,71.2L-15.9,63.4L-8.0,58.7L-1.0,54.0L4.5,49.3L9.2,46.2L15.4,48.5L20.1,46.9L24.8,49.3L29.5,55.5L86.0,30.0L60.0,80.0L0.0,95.0L-50.0,80.0Z" fill="#cd171d" stroke="#3a2a22" stroke-width="0.3" stroke-linejoin="round"/>
<path d="M-22.1,74.3L-11.9,66.5L-4.9,61.8L1.4,57.1L6.8,51.6L10.7,49.3L17.0,50.1L20.1,55.5L21.7,64.9L86.0,30.0L60.0,80.0L0.0,95.0L-50.0,80.0Z" fill="#ad1224" stroke="#3a2a22" stroke-width="0.3" stroke-linejoin="round"/>
<path d="M-9.6,74.3L-3.3,68.1L1.4,62.6L6.1,57.9L10.0,53.2L14.7,51.6L16.2,53.2L17.0,61.8L17.0,72.8L86.0,30.0L60.0,80.0L0.0,95.0L-50.0,80.0Z" fill="#7c0a2c" stroke="#3a2a22" stroke-width="0.3" stroke-linejoin="round"/>
<path d="M-17.43,-74.80C-15.86,-74.80 -10.17,-76.37 -8.04,-74.80C-5.90,-73.23 -5.90,-68.28 -4.59,-65.41C-3.29,-62.54 -2.51,-59.36 -0.21,-57.58C2.09,-55.81 6.31,-55.55 9.18,-54.77C12.05,-53.98 14.66,-53.72 17.01,-52.89C19.36,-52.05 22.09,-50.67 23.27,-49.76C24.44,-48.84 25.09,-47.41 24.05,-47.41C23.01,-47.41 19.49,-49.05 17.01,-49.76C14.53,-50.46 12.05,-51.32 9.18,-51.64C6.31,-51.95 2.40,-51.69 -0.21,-51.64C-2.82,-51.58 -4.12,-51.64 -6.47,-51.32C-8.82,-51.01 -11.69,-50.49 -14.30,-49.76C-16.90,-49.03 -19.51,-48.30 -22.12,-46.94C-24.73,-45.58 -27.60,-43.44 -29.95,-41.62C-32.30,-39.79 -34.38,-38.02 -36.21,-35.98C-38.03,-33.95 -39.65,-30.77 -40.90,-29.41C-42.16,-28.05 -43.59,-27.11 -43.72,-27.84C-43.85,-28.57 -42.81,-31.76 -41.69,-33.79C-40.57,-35.83 -38.82,-38.12 -36.99,-40.05C-35.17,-41.98 -32.95,-43.70 -30.73,-45.37C-28.51,-47.04 -25.64,-48.69 -23.69,-50.07C-21.73,-51.45 -20.04,-51.90 -18.99,-53.67C-17.95,-55.44 -17.69,-57.19 -17.43,-60.71C-17.17,-64.23 -17.43,-72.45 -17.43,-74.80Z" fill="#fde6d2" stroke="#3a2a22" stroke-width="0.3" stroke-linejoin="round"/>
<path d="M-16.64,-74.80C-15.26,-74.80 -10.17,-76.37 -8.35,-74.80C-6.52,-73.23 -6.65,-68.15 -5.69,-65.41C-4.72,-62.67 -3.47,-60.14 -2.56,-58.37C-1.64,-56.59 -0.08,-55.68 -0.21,-54.77C-0.34,-53.85 -2.04,-53.20 -3.34,-52.89C-4.64,-52.57 -6.21,-53.10 -8.04,-52.89C-9.86,-52.68 -12.21,-52.16 -14.30,-51.64C-16.38,-51.11 -19.25,-49.81 -20.56,-49.76C-21.86,-49.70 -22.64,-50.49 -22.12,-51.32C-21.60,-52.16 -18.34,-52.94 -17.43,-54.77C-16.51,-56.59 -16.77,-58.94 -16.64,-62.28C-16.51,-65.62 -16.64,-72.71 -16.64,-74.80Z" fill="#fbcfac" stroke="#3a2a22" stroke-width="0.3" stroke-linejoin="round"/>
<path d="M-15.86,-74.80C-14.66,-74.80 -10.17,-76.23 -8.66,-74.80C-7.15,-73.37 -7.46,-68.80 -6.78,-66.19C-6.11,-63.58 -4.64,-60.97 -4.59,-59.15C-4.54,-57.32 -5.51,-56.02 -6.47,-55.24C-7.44,-54.45 -9.08,-54.53 -10.38,-54.45C-11.69,-54.37 -13.33,-53.59 -14.30,-54.77C-15.26,-55.94 -15.91,-58.16 -16.17,-61.50C-16.44,-64.83 -15.91,-72.58 -15.86,-74.80Z" fill="#f98d66" stroke="#3a2a22" stroke-width="0.3" stroke-linejoin="round"/>
<path d="M-14.92,-73.23C-14.09,-73.18 -10.59,-73.97 -9.91,-72.92C-9.24,-71.88 -10.80,-69.01 -10.85,-66.97C-10.90,-64.94 -9.91,-62.59 -10.23,-60.71C-10.54,-58.84 -12.05,-55.97 -12.73,-55.70C-13.41,-55.44 -13.57,-58.00 -14.30,-59.15C-15.03,-60.30 -17.17,-61.42 -17.11,-62.59C-17.06,-63.77 -14.35,-64.42 -13.98,-66.19C-13.62,-67.97 -14.77,-72.06 -14.92,-73.23Z" fill="#ee2c20" stroke="#3a2a22" stroke-width="0.3" stroke-linejoin="round"/>
<path d="M-35.03,8.59C-34.62,9.43 -32.32,11.51 -32.53,13.60C-32.74,15.69 -34.62,18.40 -36.29,21.11C-37.96,23.83 -40.25,27.17 -42.55,29.88C-44.84,32.59 -47.35,34.89 -50.06,37.39C-52.77,39.90 -55.90,44.49 -58.83,44.91C-61.75,45.32 -65.30,42.82 -67.59,39.90C-69.89,36.98 -71.77,32.38 -72.60,27.38C-73.43,22.37 -74.27,13.18 -72.60,9.84C-70.93,6.51 -65.92,7.13 -62.58,7.34C-59.24,7.55 -55.70,10.68 -52.56,11.10C-49.43,11.51 -46.72,10.26 -43.80,9.84C-40.88,9.43 -36.50,8.80 -35.03,8.59Z" fill="#fde6d2" stroke="#3a2a22" stroke-width="0.3" stroke-linejoin="round"/>
<path d="M-37.54,13.60C-37.12,14.31 -34.83,16.19 -35.03,17.86C-35.24,19.53 -37.12,21.41 -38.79,23.62C-40.46,25.83 -42.76,28.63 -45.05,31.13C-47.35,33.64 -50.06,36.56 -52.56,38.65C-55.07,40.73 -57.37,43.65 -60.08,43.65C-62.79,43.65 -66.76,41.36 -68.84,38.65C-70.93,35.93 -71.97,31.97 -72.60,27.38C-73.23,22.78 -74.06,14.10 -72.60,11.10C-71.14,8.09 -66.76,8.72 -63.83,9.34C-60.91,9.97 -57.99,13.85 -55.07,14.85C-52.15,15.86 -49.23,15.56 -46.30,15.35C-43.38,15.15 -39.00,13.89 -37.54,13.60Z" fill="#fbcfac" stroke="#3a2a22" stroke-width="0.3" stroke-linejoin="round"/>
<path d="M-42.55,23.62C-42.21,24.16 -39.71,25.20 -40.54,26.87C-41.38,28.54 -45.14,31.47 -47.56,33.64C-49.98,35.81 -52.77,38.23 -55.07,39.90C-57.37,41.57 -58.83,44.07 -61.33,43.65C-63.83,43.24 -68.22,40.11 -70.10,37.39C-71.97,34.68 -72.18,31.55 -72.60,27.38C-73.02,23.20 -73.85,15.06 -72.60,12.35C-71.35,9.64 -67.17,10.05 -65.09,11.10C-63.00,12.14 -62.37,16.52 -60.08,18.61C-57.78,20.70 -54.23,22.78 -51.31,23.62C-48.39,24.45 -44.01,23.62 -42.55,23.62Z" fill="#f98d66" stroke="#3a2a22" stroke-width="0.3" stroke-linejoin="round"/>
<path d="M-48.81,29.38C-48.39,29.88 -45.47,30.84 -46.30,32.38C-47.14,33.93 -51.10,36.89 -53.82,38.65C-56.53,40.40 -59.87,43.11 -62.58,42.90C-65.30,42.69 -68.43,39.98 -70.10,37.39C-71.77,34.80 -72.18,31.34 -72.60,27.38C-73.02,23.41 -73.64,16.11 -72.60,13.60C-71.56,11.10 -68.01,11.10 -66.34,12.35C-64.67,13.60 -64.25,18.61 -62.58,21.11C-60.91,23.62 -58.62,26.00 -56.32,27.38C-54.03,28.75 -50.06,29.04 -48.81,29.38Z" fill="#ee2c20" stroke="#3a2a22" stroke-width="0.3" stroke-linejoin="round"/>
<path d="M31.33,-1.43C32.38,-2.05 35.51,-5.39 37.59,-5.18C39.68,-4.97 42.60,-2.68 43.85,-0.17C45.11,2.33 44.48,6.51 45.11,9.84C45.73,13.18 47.61,16.94 47.61,19.86C47.61,22.78 46.57,26.33 45.11,27.38C43.65,28.42 40.51,27.79 38.85,26.12C37.18,24.45 36.13,20.49 35.09,17.36C34.04,14.23 33.21,10.47 32.58,7.34C31.96,4.21 31.54,0.04 31.33,-1.43Z" fill="#fde6d2" stroke="#3a2a22" stroke-width="0.3" stroke-linejoin="round"/>
<path d="M38.85,9.84C39.55,10.05 41.89,9.64 43.10,11.10C44.31,12.56 45.86,16.23 46.11,18.61C46.36,20.99 45.52,24.54 44.61,25.37C43.69,26.21 41.52,25.16 40.60,23.62C39.68,22.07 39.39,18.40 39.10,16.11C38.80,13.81 38.89,10.89 38.85,9.84Z" fill="#fbcfac" stroke="#3a2a22" stroke-width="0.3" stroke-linejoin="round"/>
<path d="M23.82,-38.99C24.65,-38.36 27.16,-37.11 28.83,-35.23C30.50,-33.36 32.38,-30.43 33.84,-27.72C35.30,-25.01 36.76,-21.88 37.59,-18.96C38.43,-16.03 38.93,-12.15 38.85,-10.19C38.76,-8.23 37.93,-6.56 37.09,-7.19C36.26,-7.81 34.92,-11.36 33.84,-13.95C32.75,-16.53 31.71,-20.00 30.58,-22.71C29.45,-25.43 28.41,-28.06 27.07,-30.23C25.74,-32.40 23.11,-34.27 22.57,-35.74C22.02,-37.20 23.61,-38.45 23.82,-38.99Z" fill="#fde6d2" stroke="#3a2a22" stroke-width="0.3" stroke-linejoin="round"/>
<use href="#landhalo" stroke-width="4.2"/>
<use href="#landmain"/>
<use href="#Lellesmere" fill="#d9d9d9"/>
<use href="#Laxel" fill="#d9d9d9"/>
<use href="#Ldevon" fill="#d9d9d9"/>
<use href="#Lbaffin" fill="#d9d9d9"/>
<use href="#Lsouthampton" fill="#d9d9d9"/>
<use href="#Lbanks" fill="#d9d9d9"/>
<use href="#Lvictoria" fill="#ffffff"/>
<use href="#Lpwales" fill="#ffffff"/>
<use href="#Lsomerset" fill="#ffffff"/>
<use href="#landisl"/>
<ellipse cx="-15.6" cy="-4.9" rx="12.5" ry="1.4" transform="rotate(18 -15.6 -4.9)" fill="none" stroke="#555" stroke-width="0.5"/>
<ellipse cx="8.8" cy="1.8" rx="6.0" ry="1.1" transform="rotate(12 8.8 1.8)" fill="none" stroke="#555" stroke-width="0.5"/>
<path d="M-14.1,-70.0L-11.3,-69.4L-11.0,-66.6L-10.2,-65.0L-9.9,-60.6L-12.4,-56.2L-13.8,-59.0L-15.9,-62.2L-13.8,-65.3L-14.3,-67.2Z" fill="#ee2c20" stroke="#3a2a22" stroke-width="0.25"/>
<g stroke="#777" stroke-width="0.4" stroke-dasharray="0.5 1.0" fill="none"><circle r="42.04"/><path d="M-0.00,-70.80L0.00,70.80M-61.31,-35.40L61.31,35.40M-61.31,35.40L61.31,-35.40"/></g>
</g>
<circle r="70.80" fill="none" stroke="#222" stroke-width="1.15"/>
<circle r="2.0" fill="#fff"/><circle r="1.25" fill="#000"/>
<text x="0" y="-73.40" class="ml" text-anchor="middle">180°</text>
<text x="0" y="80.40" class="ml" text-anchor="middle">0°</text>
<text transform="translate(-66.68,-38.50) rotate(-60)" class="ml" text-anchor="middle" dy="3">120°W</text>
<text transform="translate(66.68,-38.50) rotate(60)" class="ml" text-anchor="middle" dy="3">120°E</text>
<text transform="translate(-66.68,38.50) rotate(60)" class="ml" text-anchor="middle" dy="3">60°W</text>
<text transform="translate(66.68,38.50) rotate(-60)" class="ml" text-anchor="middle" dy="3">60°E</text>
<text x="-2.9" y="-39.14" class="ml75">-</text><text x="3.1" y="-39.14" class="ml75">75°N</text>
</g>
<text x="254.5" y="72.4" class="tag">(b)</text>
<g transform="translate(497.00,138.70)">
<g clip-path="url(#mclip)">
<circle r="71.80" fill="#f6faff"/>
<path d="M-13.15,-48.91C-12.60,-50.37 -11.02,-55.21 -9.89,-57.67C-8.76,-60.14 -8.56,-62.60 -6.39,-63.68C-4.21,-64.77 0.79,-65.19 3.13,-64.19C5.47,-63.18 5.97,-59.59 7.64,-57.67C9.31,-55.75 13.90,-53.92 13.15,-52.66C12.40,-51.41 6.47,-50.79 3.13,-50.16C-0.21,-49.53 -4.17,-49.12 -6.89,-48.91C-9.60,-48.70 -12.10,-48.91 -13.15,-48.91Z" fill="#e4eff9" stroke="none" stroke-width="0" stroke-linejoin="round"/>
<path d="M29.43,-2.58C30.89,-3.33 35.81,-6.88 38.19,-7.09C40.57,-7.29 42.95,-5.83 43.70,-3.83C44.45,-1.83 42.37,1.81 42.70,4.94C43.03,8.07 45.29,11.53 45.71,14.95C46.12,18.38 46.12,23.18 45.21,25.47C44.29,27.77 41.78,29.02 40.20,28.73C38.61,28.44 36.36,26.01 35.69,23.72C35.02,21.42 36.61,17.25 36.19,14.95C35.77,12.66 34.52,9.53 33.18,9.94C31.85,10.36 29.84,15.37 28.18,17.46C26.51,19.54 23.38,23.30 23.17,22.47C22.96,21.63 25.88,16.62 26.92,12.45C27.97,8.28 29.01,-0.07 29.43,-2.58Z" fill="#dbe9f6" stroke="#52708f" stroke-width="0.3" stroke-linejoin="round"/>
<path d="M31.18,-1.33C32.18,-1.87 35.60,-4.58 37.19,-4.58C38.78,-4.58 40.24,-3.12 40.70,-1.33C41.16,0.47 39.86,3.68 39.95,6.19C40.03,8.69 41.32,11.74 41.20,13.70C41.07,15.66 39.90,18.17 39.19,17.96C38.49,17.75 37.61,14.29 36.94,12.45C36.27,10.61 36.15,6.94 35.19,6.94C34.23,6.94 32.35,11.03 31.18,12.45C30.01,13.87 28.18,17.75 28.18,15.45C28.18,13.16 30.68,1.47 31.18,-1.33Z" fill="#c6dbef" stroke="#52708f" stroke-width="0.3" stroke-linejoin="round"/>
<path d="M-25.67,2.43C-24.63,4.10 -19.20,9.53 -19.41,12.45C-19.62,15.37 -24.42,17.46 -26.92,19.96C-29.43,22.47 -31.51,25.39 -34.43,27.48C-37.36,29.56 -41.11,32.07 -44.45,32.48C-47.79,32.90 -53.63,31.65 -54.47,29.98C-55.30,28.31 -51.96,24.76 -49.46,22.47C-46.96,20.17 -42.36,18.29 -39.44,16.21C-36.52,14.12 -34.23,12.24 -31.93,9.94C-29.63,7.65 -26.71,3.68 -25.67,2.43Z" fill="#e4eff9" stroke="#6b88a6" stroke-width="0.3" stroke-linejoin="round"/>
<path d="M3.13,37.49C4.38,37.08 8.56,34.57 10.64,34.99C12.73,35.41 16.91,37.08 15.65,40.00C14.40,42.92 7.31,48.55 3.13,52.52C-1.04,56.48 -6.26,61.28 -9.39,63.79C-12.52,66.29 -14.19,67.75 -15.65,67.55C-17.11,67.34 -19.62,65.04 -18.16,62.54C-16.69,60.03 -10.43,56.69 -6.89,52.52C-3.34,48.35 1.46,40.00 3.13,37.49Z" fill="#e9f2fb" stroke="none" stroke-width="0" stroke-linejoin="round"/>
<path d="M-33.90,-18.86C-34.52,-20.11 -36.74,-23.76 -37.65,-26.37C-38.57,-28.98 -39.69,-31.87 -39.41,-34.53C-39.13,-37.18 -37.70,-40.17 -35.97,-42.29C-34.25,-44.41 -31.65,-45.78 -29.07,-47.23C-26.49,-48.67 -23.55,-49.89 -20.48,-50.95C-17.41,-52.01 -14.04,-52.99 -10.64,-53.60C-7.25,-54.20 -3.24,-54.23 -0.12,-54.56C2.99,-54.90 5.45,-55.67 8.03,-55.60C10.61,-55.53 13.13,-55.03 15.37,-54.13C17.60,-53.24 19.51,-52.00 21.45,-50.23C23.39,-48.47 25.53,-45.77 27.03,-43.54C28.53,-41.31 29.17,-39.12 30.47,-36.85C31.76,-34.59 33.67,-32.25 34.79,-29.95C35.92,-27.64 36.59,-25.17 37.19,-23.04C37.79,-20.91 38.46,-19.09 38.37,-17.17C38.29,-15.25 37.39,-13.30 36.69,-11.52C35.99,-9.74 35.04,-8.08 34.19,-6.51C33.33,-4.95 31.94,-3.20 31.57,-2.15C31.21,-1.09 31.77,-1.66 32.00,-0.18C32.24,1.30 33.21,4.46 32.97,6.72C32.72,8.99 31.71,11.29 30.54,13.41C29.36,15.54 27.50,17.76 25.92,19.50C24.35,21.23 22.50,22.68 21.09,23.83C19.68,24.98 18.35,25.39 17.44,26.40C16.53,27.41 16.62,28.76 15.62,29.87C14.62,30.99 12.83,32.07 11.43,33.09C10.04,34.12 8.50,35.20 7.25,36.03C5.99,36.85 5.11,37.14 3.92,38.03C2.73,38.92 1.81,39.97 0.09,41.36C-1.63,42.75 -4.23,44.52 -6.39,46.37C-8.54,48.21 -10.79,50.57 -12.86,52.41C-14.93,54.25 -16.93,55.92 -18.80,57.42C-20.67,58.92 -22.81,60.83 -24.06,61.39C-25.31,61.96 -26.67,63.13 -26.31,60.82C-25.96,58.51 -23.69,51.40 -21.91,47.51C-20.14,43.62 -17.32,40.83 -15.65,37.49C-13.98,34.15 -12.31,31.23 -11.89,27.48C-11.48,23.72 -11.48,17.46 -13.15,14.95C-14.82,12.45 -18.78,12.97 -21.91,12.45C-25.04,11.93 -28.69,12.38 -31.93,11.84C-35.17,11.30 -38.62,10.90 -41.34,9.23C-44.06,7.56 -46.76,4.54 -48.24,1.82C-49.73,-0.90 -50.25,-4.29 -50.25,-7.09C-50.25,-9.88 -49.73,-13.00 -48.24,-14.92C-46.76,-16.84 -43.46,-17.84 -41.34,-18.61C-39.22,-19.37 -36.75,-19.46 -35.51,-19.50C-34.27,-19.54 -34.17,-18.96 -33.90,-18.86Z" fill="#c6dbef" stroke="#0b1c33" stroke-width="0.3" stroke-linejoin="round"/>
<path d="M-33.36,-18.86C-33.99,-20.11 -36.20,-23.78 -37.12,-26.37C-38.04,-28.96 -39.14,-31.82 -38.87,-34.42C-38.60,-37.01 -37.20,-39.87 -35.51,-41.93C-33.81,-44.00 -31.24,-45.37 -28.71,-46.80C-26.18,-48.22 -23.31,-49.45 -20.30,-50.48C-17.29,-51.52 -14.01,-52.44 -10.64,-53.02C-7.28,-53.60 -3.22,-53.62 -0.12,-53.95C2.97,-54.29 5.39,-55.09 7.93,-55.03C10.46,-54.97 12.90,-54.47 15.08,-53.60C17.26,-52.72 19.10,-51.54 20.98,-49.80C22.87,-48.07 24.93,-45.39 26.39,-43.18C27.85,-40.98 28.50,-38.80 29.75,-36.57C31.00,-34.33 32.83,-32.03 33.90,-29.77C34.97,-27.50 35.62,-25.06 36.19,-22.97C36.76,-20.88 37.38,-19.12 37.30,-17.25C37.21,-15.37 36.37,-13.46 35.69,-11.70C35.00,-9.94 34.05,-8.27 33.18,-6.69C32.31,-5.11 30.86,-3.29 30.47,-2.22C30.07,-1.15 30.61,-1.74 30.82,-0.29C31.04,1.17 31.99,4.27 31.75,6.51C31.51,8.75 30.53,11.04 29.39,13.13C28.25,15.22 26.44,17.36 24.92,19.03C23.40,20.71 21.63,22.05 20.27,23.18C18.90,24.32 17.59,24.82 16.73,25.83C15.86,26.84 16.04,28.16 15.08,29.26C14.12,30.37 12.34,31.44 10.97,32.45C9.60,33.46 8.10,34.50 6.85,35.31C5.60,36.12 4.67,36.41 3.45,37.31C2.24,38.21 1.28,39.31 -0.45,40.71C-2.17,42.11 -4.74,43.87 -6.89,45.72C-9.03,47.57 -11.27,49.96 -13.33,51.80C-15.38,53.65 -17.38,55.32 -19.19,56.81C-21.01,58.30 -23.03,60.16 -24.20,60.75C-25.37,61.34 -26.59,62.56 -26.21,60.35C-25.82,58.15 -23.67,51.32 -21.91,47.51C-20.15,43.70 -17.32,40.83 -15.65,37.49C-13.98,34.15 -12.31,31.23 -11.89,27.48C-11.48,23.72 -11.48,17.46 -13.15,14.95C-14.82,12.45 -18.78,12.99 -21.91,12.45C-25.04,11.91 -28.71,12.31 -31.93,11.73C-35.15,11.16 -38.55,10.68 -41.23,9.01C-43.92,7.34 -46.56,4.40 -48.03,1.72C-49.50,-0.97 -50.03,-4.34 -50.03,-7.09C-50.03,-9.83 -49.50,-12.86 -48.03,-14.74C-46.56,-16.62 -43.35,-17.58 -41.23,-18.35C-39.12,-19.13 -36.64,-19.31 -35.33,-19.39C-34.02,-19.48 -33.69,-18.95 -33.36,-18.86Z" fill="#9ecae1" stroke="#0b1c33" stroke-width="0.3" stroke-linejoin="round"/>
<path d="M-32.82,-18.86C-33.45,-20.11 -35.66,-23.79 -36.58,-26.37C-37.50,-28.94 -38.59,-31.78 -38.33,-34.31C-38.08,-36.85 -36.71,-39.56 -35.04,-41.57C-33.38,-43.58 -30.84,-44.96 -28.35,-46.37C-25.87,-47.78 -23.08,-49.00 -20.12,-50.02C-17.17,-51.03 -13.98,-51.90 -10.64,-52.45C-7.31,-53.00 -3.20,-53.01 -0.12,-53.34C2.95,-53.68 5.33,-54.50 7.82,-54.45C10.30,-54.41 12.68,-53.91 14.79,-53.06C16.91,-52.21 18.69,-51.08 20.52,-49.37C22.34,-47.67 24.32,-45.01 25.74,-42.83C27.16,-40.64 27.82,-38.49 29.03,-36.28C30.24,-34.07 31.98,-31.82 33.01,-29.59C34.03,-27.36 34.65,-24.94 35.19,-22.90C35.72,-20.85 36.31,-19.15 36.23,-17.32C36.14,-15.48 35.36,-13.62 34.69,-11.88C34.01,-10.14 33.07,-8.47 32.18,-6.87C31.29,-5.27 29.78,-3.37 29.36,-2.29C28.93,-1.21 29.45,-1.83 29.64,-0.39C29.84,1.04 30.77,4.09 30.54,6.30C30.30,8.50 29.35,10.80 28.25,12.84C27.14,14.89 25.38,16.95 23.92,18.57C22.45,20.18 20.76,21.42 19.45,22.54C18.13,23.65 16.83,24.24 16.01,25.26C15.19,26.28 15.46,27.56 14.54,28.66C13.63,29.75 11.85,30.81 10.50,31.80C9.15,32.79 7.71,33.80 6.46,34.59C5.21,35.39 4.23,35.69 2.99,36.60C1.75,37.51 0.75,38.66 -0.98,40.07C-2.71,41.48 -5.25,43.22 -7.39,45.08C-9.52,46.93 -11.76,49.34 -13.79,51.20C-15.82,53.05 -17.83,54.72 -19.59,56.20C-21.35,57.69 -23.26,59.49 -24.35,60.10C-25.43,60.72 -26.50,61.99 -26.10,59.89C-25.69,57.79 -23.65,51.24 -21.91,47.51C-20.17,43.78 -17.32,40.83 -15.65,37.49C-13.98,34.15 -12.31,31.23 -11.89,27.48C-11.48,23.72 -11.48,17.46 -13.15,14.95C-14.82,12.45 -18.78,13.00 -21.91,12.45C-25.04,11.89 -28.73,12.23 -31.93,11.63C-35.13,11.02 -38.48,10.47 -41.12,8.80C-43.77,7.13 -46.37,4.26 -47.81,1.61C-49.26,-1.04 -49.82,-4.39 -49.82,-7.09C-49.82,-9.78 -49.26,-12.73 -47.81,-14.56C-46.37,-16.40 -43.24,-17.32 -41.12,-18.10C-39.01,-18.89 -36.53,-19.16 -35.15,-19.29C-33.77,-19.41 -33.21,-18.93 -32.82,-18.86Z" fill="#6baed6" stroke="#0b1c33" stroke-width="0.3" stroke-linejoin="round"/>
<path d="M-32.29,-18.86C-32.91,-20.11 -35.13,-23.81 -36.04,-26.37C-36.96,-28.93 -38.04,-31.73 -37.80,-34.20C-37.55,-36.68 -36.21,-39.26 -34.58,-41.22C-32.94,-43.17 -30.43,-44.55 -27.99,-45.94C-25.56,-47.33 -22.84,-48.56 -19.94,-49.55C-17.05,-50.54 -13.95,-51.35 -10.64,-51.88C-7.34,-52.41 -3.18,-52.40 -0.12,-52.74C2.93,-53.07 5.27,-53.92 7.71,-53.88C10.15,-53.85 12.45,-53.34 14.51,-52.52C16.57,-51.70 18.29,-50.62 20.05,-48.94C21.82,-47.27 23.72,-44.63 25.10,-42.47C26.48,-40.31 27.15,-38.17 28.32,-35.99C29.49,-33.82 31.13,-31.60 32.11,-29.41C33.09,-27.22 33.68,-24.83 34.19,-22.83C34.69,-20.82 35.24,-19.18 35.15,-17.39C35.07,-15.59 34.35,-13.78 33.68,-12.06C33.02,-10.33 32.09,-8.67 31.18,-7.05C30.27,-5.43 28.70,-3.45 28.25,-2.36C27.79,-1.27 28.28,-1.91 28.46,-0.50C28.64,0.90 29.55,3.90 29.32,6.08C29.09,8.26 28.17,10.55 27.10,12.56C26.03,14.56 24.33,16.55 22.92,18.10C21.50,19.66 19.89,20.80 18.62,21.89C17.35,22.99 16.06,23.66 15.30,24.68C14.53,25.71 14.88,26.97 14.01,28.05C13.13,29.13 11.36,30.19 10.04,31.16C8.71,32.13 7.32,33.09 6.07,33.88C4.81,34.67 3.79,34.96 2.52,35.88C1.26,36.81 0.22,38.00 -1.52,39.42C-3.25,40.85 -5.77,42.57 -7.89,44.43C-10.01,46.29 -12.24,48.73 -14.26,50.59C-16.27,52.45 -18.28,54.12 -19.98,55.60C-21.69,57.07 -23.49,58.82 -24.49,59.46C-25.49,60.10 -26.42,61.42 -25.99,59.42C-25.56,57.43 -23.64,51.17 -21.91,47.51C-20.19,43.86 -17.32,40.83 -15.65,37.49C-13.98,34.15 -12.31,31.23 -11.89,27.48C-11.48,23.72 -11.48,17.46 -13.15,14.95C-14.82,12.45 -18.78,13.02 -21.91,12.45C-25.04,11.88 -28.75,12.16 -31.93,11.52C-35.11,10.87 -38.41,10.25 -41.02,8.59C-43.63,6.92 -46.17,4.11 -47.60,1.50C-49.03,-1.11 -49.60,-4.44 -49.60,-7.09C-49.60,-9.73 -49.03,-12.59 -47.60,-14.38C-46.17,-16.18 -43.12,-17.06 -41.02,-17.85C-38.91,-18.65 -36.43,-19.01 -34.97,-19.18C-33.52,-19.34 -32.73,-18.91 -32.29,-18.86Z" fill="#4292c6" stroke="#0b1c33" stroke-width="0.3" stroke-linejoin="round"/>
<path d="M-31.75,-18.86C-32.38,-20.11 -34.59,-23.83 -35.51,-26.37C-36.43,-28.91 -37.49,-31.68 -37.26,-34.10C-37.03,-36.51 -35.72,-38.96 -34.11,-40.86C-32.51,-42.76 -30.03,-44.14 -27.64,-45.51C-25.25,-46.88 -22.60,-48.12 -19.77,-49.09C-16.93,-50.05 -13.92,-50.80 -10.64,-51.31C-7.37,-51.81 -3.17,-51.79 -0.12,-52.13C2.92,-52.46 5.21,-53.33 7.60,-53.31C9.99,-53.29 12.22,-52.78 14.22,-51.99C16.22,-51.19 17.88,-50.16 19.59,-48.51C21.29,-46.87 23.12,-44.25 24.45,-42.11C25.79,-39.98 26.48,-37.85 27.60,-35.71C28.73,-33.56 30.29,-31.39 31.22,-29.23C32.15,-27.07 32.71,-24.72 33.18,-22.76C33.66,-20.79 34.16,-19.21 34.08,-17.46C34.00,-15.71 33.33,-13.94 32.68,-12.24C32.03,-10.53 31.10,-8.86 30.18,-7.23C29.25,-5.59 27.62,-3.54 27.14,-2.43C26.65,-1.33 27.12,-1.99 27.28,-0.61C27.44,0.77 28.32,3.72 28.10,5.87C27.88,8.01 26.99,10.31 25.96,12.27C24.93,14.23 23.27,16.14 21.91,17.64C20.55,19.13 19.02,20.17 17.80,21.25C16.58,22.33 15.30,23.08 14.58,24.11C13.86,25.14 14.31,26.37 13.47,27.44C12.64,28.51 10.87,29.56 9.57,30.52C8.27,31.47 6.92,32.39 5.67,33.16C4.42,33.94 3.35,34.23 2.06,35.17C0.77,36.10 -0.32,37.34 -2.06,38.78C-3.80,40.22 -6.28,41.92 -8.39,43.79C-10.50,45.66 -12.72,48.11 -14.72,49.98C-16.72,51.85 -18.72,53.51 -20.37,54.99C-22.03,56.46 -23.71,58.15 -24.63,58.82C-25.55,59.48 -26.34,60.84 -25.88,58.96C-25.43,57.07 -23.62,51.09 -21.91,47.51C-20.21,43.93 -17.32,40.83 -15.65,37.49C-13.98,34.15 -12.31,31.23 -11.89,27.48C-11.48,23.72 -11.48,17.46 -13.15,14.95C-14.82,12.45 -18.78,13.04 -21.91,12.45C-25.04,11.86 -28.76,12.09 -31.93,11.41C-35.10,10.73 -38.33,10.04 -40.91,8.37C-43.49,6.70 -45.97,3.97 -47.39,1.39C-48.80,-1.18 -49.39,-4.49 -49.39,-7.09C-49.39,-9.68 -48.80,-12.45 -47.39,-14.20C-45.97,-15.96 -43.01,-16.79 -40.91,-17.60C-38.81,-18.41 -36.32,-18.86 -34.79,-19.07C-33.27,-19.28 -32.26,-18.89 -31.75,-18.86Z" fill="#2171b5" stroke="#0b1c33" stroke-width="0.3" stroke-linejoin="round"/>
<path d="M-31.21,-18.86C-31.84,-20.11 -34.05,-23.85 -34.97,-26.37C-35.89,-28.89 -36.94,-31.63 -36.72,-33.99C-36.50,-36.34 -35.22,-38.65 -33.65,-40.50C-32.07,-42.35 -29.62,-43.73 -27.28,-45.08C-24.94,-46.43 -22.36,-47.68 -19.59,-48.62C-16.81,-49.56 -13.89,-50.25 -10.64,-50.73C-7.40,-51.22 -3.15,-51.19 -0.12,-51.52C2.90,-51.85 5.15,-52.75 7.50,-52.74C9.84,-52.72 12.00,-52.22 13.94,-51.45C15.87,-50.67 17.48,-49.70 19.12,-48.09C20.77,-46.47 22.52,-43.86 23.81,-41.75C25.10,-39.64 25.80,-37.54 26.89,-35.42C27.97,-33.30 29.44,-31.17 30.32,-29.05C31.20,-26.93 31.74,-24.60 32.18,-22.68C32.63,-20.76 33.09,-19.24 33.01,-17.53C32.92,-15.82 32.32,-14.10 31.68,-12.42C31.04,-10.73 30.12,-9.06 29.18,-7.41C28.23,-5.76 26.54,-3.62 26.03,-2.51C25.52,-1.39 25.96,-2.08 26.10,-0.72C26.24,0.64 27.10,3.53 26.89,5.65C26.67,7.77 25.81,10.06 24.81,11.98C23.82,13.90 22.22,15.73 20.91,17.17C19.61,18.61 18.15,19.54 16.98,20.61C15.80,21.67 14.54,22.50 13.86,23.54C13.19,24.58 13.73,25.78 12.93,26.83C12.14,27.89 10.38,28.94 9.11,29.87C7.83,30.81 6.53,31.69 5.28,32.45C4.03,33.21 2.90,33.50 1.59,34.45C0.28,35.40 -0.85,36.69 -2.59,38.14C-4.34,39.59 -6.79,41.27 -8.89,43.15C-10.99,45.02 -13.21,47.50 -15.19,49.37C-17.17,51.24 -19.17,52.91 -20.77,54.38C-22.37,55.85 -23.94,57.49 -24.77,58.17C-25.61,58.86 -26.25,60.27 -25.78,58.49C-25.30,56.72 -23.60,51.01 -21.91,47.51C-20.22,44.01 -17.32,40.83 -15.65,37.49C-13.98,34.15 -12.31,31.23 -11.89,27.48C-11.48,23.72 -11.48,17.46 -13.15,14.95C-14.82,12.45 -18.78,13.06 -21.91,12.45C-25.04,11.84 -28.78,12.02 -31.93,11.30C-35.08,10.59 -38.26,9.83 -40.80,8.16C-43.34,6.49 -45.78,3.83 -47.17,1.29C-48.57,-1.25 -49.17,-4.53 -49.17,-7.09C-49.17,-9.64 -48.57,-12.31 -47.17,-14.03C-45.78,-15.74 -42.90,-16.53 -40.80,-17.35C-38.71,-18.18 -36.21,-18.71 -34.61,-18.96C-33.02,-19.21 -31.78,-18.87 -31.21,-18.86Z" fill="#08519c" stroke="#0b1c33" stroke-width="0.3" stroke-linejoin="round"/>
<path d="M-30.68,-18.86C-31.30,-20.11 -33.52,-23.86 -34.43,-26.37C-35.35,-28.87 -36.40,-31.59 -36.19,-33.88C-35.98,-36.18 -34.73,-38.35 -33.18,-40.14C-31.64,-41.94 -29.22,-43.32 -26.92,-44.65C-24.63,-45.99 -22.12,-47.24 -19.41,-48.16C-16.69,-49.08 -13.86,-49.70 -10.64,-50.16C-7.43,-50.62 -3.13,-50.58 -0.12,-50.91C2.88,-51.25 5.09,-52.16 7.39,-52.16C9.68,-52.16 11.77,-51.66 13.65,-50.91C15.53,-50.16 17.07,-49.24 18.66,-47.66C20.24,-46.07 21.91,-43.48 23.17,-41.40C24.42,-39.31 25.13,-37.22 26.17,-35.13C27.22,-33.05 28.59,-30.96 29.43,-28.87C30.26,-26.79 30.76,-24.49 31.18,-22.61C31.60,-20.73 32.02,-19.27 31.93,-17.60C31.85,-15.93 31.31,-14.26 30.68,-12.59C30.05,-10.93 29.14,-9.26 28.18,-7.59C27.22,-5.92 25.46,-3.70 24.92,-2.58C24.38,-1.45 24.79,-2.16 24.92,-0.82C25.04,0.51 25.88,3.35 25.67,5.44C25.46,7.52 24.63,9.82 23.67,11.70C22.71,13.58 21.16,15.33 19.91,16.71C18.66,18.08 17.28,18.92 16.15,19.96C15.03,21.01 13.78,21.92 13.15,22.97C12.52,24.01 13.15,25.18 12.40,26.22C11.65,27.27 9.89,28.31 8.64,29.23C7.39,30.15 6.14,30.98 4.88,31.73C3.63,32.48 2.46,32.78 1.13,33.74C-0.21,34.70 -1.38,36.03 -3.13,37.49C-4.88,38.95 -7.30,40.62 -9.39,42.50C-11.48,44.38 -13.69,46.88 -15.65,48.76C-17.61,50.64 -19.62,52.31 -21.16,53.77C-22.71,55.23 -24.17,56.82 -24.92,57.53C-25.67,58.24 -26.17,59.70 -25.67,58.03C-25.17,56.36 -23.58,50.93 -21.91,47.51C-20.24,44.09 -17.32,40.83 -15.65,37.49C-13.98,34.15 -12.31,31.23 -11.89,27.48C-11.48,23.72 -11.48,17.46 -13.15,14.95C-14.82,12.45 -18.78,13.08 -21.91,12.45C-25.04,11.82 -28.80,11.95 -31.93,11.20C-35.06,10.45 -38.19,9.61 -40.70,7.94C-43.20,6.27 -45.58,3.68 -46.96,1.18C-48.33,-1.33 -48.96,-4.58 -48.96,-7.09C-48.96,-9.59 -48.33,-12.18 -46.96,-13.85C-45.58,-15.52 -42.78,-16.27 -40.70,-17.10C-38.61,-17.94 -36.10,-18.56 -34.43,-18.86C-32.76,-19.15 -31.30,-18.86 -30.68,-18.86Z" fill="#08306b" stroke="#0b1c33" stroke-width="0.3" stroke-linejoin="round"/>
<path d="M-28.34,-17.62C-28.88,-18.69 -30.78,-21.92 -31.57,-24.08C-32.36,-26.23 -33.26,-28.56 -33.08,-30.54C-32.90,-32.51 -31.82,-34.38 -30.50,-35.92C-29.17,-37.47 -27.09,-38.65 -25.11,-39.80C-23.14,-40.95 -20.98,-42.03 -18.65,-42.82C-16.32,-43.60 -13.88,-44.14 -11.11,-44.54C-8.35,-44.93 -4.65,-44.90 -2.07,-45.18C0.52,-45.47 2.42,-46.26 4.39,-46.26C6.37,-46.26 8.16,-45.83 9.78,-45.18C11.39,-44.54 12.72,-43.75 14.09,-42.38C15.45,-41.02 16.89,-38.79 17.96,-37.00C19.04,-35.21 19.65,-33.41 20.55,-31.62C21.45,-29.82 22.63,-28.03 23.35,-26.23C24.07,-24.44 24.50,-22.46 24.86,-20.85C25.21,-19.23 25.57,-17.97 25.50,-16.54C25.43,-15.10 24.96,-13.67 24.42,-12.23C23.89,-10.80 23.10,-9.36 22.27,-7.92C21.45,-6.49 19.94,-4.59 19.47,-3.62C19.00,-2.65 19.36,-3.26 19.47,-2.11C19.58,-0.96 20.30,1.48 20.12,3.28C19.94,5.07 19.22,7.04 18.39,8.66C17.57,10.28 16.24,11.78 15.16,12.97C14.09,14.15 12.90,14.87 11.93,15.77C10.96,16.66 9.89,17.45 9.35,18.35C8.81,19.25 9.35,20.25 8.70,21.15C8.06,22.05 6.55,22.95 5.47,23.74C4.39,24.53 3.32,25.24 2.24,25.89C1.16,26.54 0.16,26.79 -0.99,27.61C-2.14,28.44 -3.14,29.59 -4.65,30.84C-6.16,32.10 -8.24,33.54 -10.04,35.15C-11.83,36.77 -13.73,38.92 -15.42,40.54C-17.11,42.15 -18.83,43.59 -20.16,44.84C-21.49,46.10 -22.03,58.48 -23.39,48.07C-24.75,37.66 -27.52,-6.67 -28.34,-17.62Z" fill="none" stroke="#052352" stroke-width="0.3" stroke-linejoin="round"/>
<path d="M-26.34,-16.55C-26.80,-17.48 -28.44,-20.26 -29.12,-22.11C-29.80,-23.97 -30.57,-25.97 -30.42,-27.67C-30.26,-29.37 -29.34,-30.98 -28.19,-32.31C-27.05,-33.63 -25.26,-34.65 -23.56,-35.64C-21.86,-36.63 -20.01,-37.56 -18.00,-38.24C-15.99,-38.92 -13.89,-39.38 -11.52,-39.72C-9.14,-40.06 -5.96,-40.03 -3.73,-40.27C-1.51,-40.52 0.13,-41.20 1.83,-41.20C3.53,-41.20 5.07,-40.83 6.46,-40.27C7.85,-39.72 8.99,-39.04 10.17,-37.87C11.34,-36.69 12.58,-34.78 13.50,-33.23C14.43,-31.69 14.95,-30.14 15.73,-28.60C16.50,-27.05 17.52,-25.51 18.14,-23.97C18.75,-22.42 19.12,-20.72 19.43,-19.33C19.74,-17.94 20.05,-16.86 19.99,-15.63C19.93,-14.39 19.53,-13.16 19.06,-11.92C18.60,-10.68 17.92,-9.45 17.21,-8.21C16.50,-6.98 15.20,-5.34 14.80,-4.51C14.40,-3.67 14.71,-4.20 14.80,-3.21C14.89,-2.22 15.51,-0.12 15.36,1.42C15.20,2.97 14.58,4.67 13.87,6.06C13.16,7.45 12.02,8.74 11.09,9.76C10.17,10.78 9.15,11.40 8.31,12.17C7.48,12.94 6.55,13.62 6.09,14.40C5.63,15.17 6.09,16.03 5.53,16.81C4.98,17.58 3.68,18.35 2.75,19.03C1.83,19.71 0.90,20.33 -0.03,20.88C-0.95,21.44 -1.82,21.65 -2.81,22.36C-3.79,23.08 -4.66,24.06 -5.96,25.14C-7.25,26.23 -9.04,27.46 -10.59,28.85C-12.13,30.24 -13.77,32.09 -15.22,33.48C-16.67,34.87 -18.16,36.11 -19.30,37.19C-20.44,38.27 -20.91,48.93 -22.08,39.97C-23.25,31.01 -25.63,-7.13 -26.34,-16.55Z" fill="none" stroke="#052352" stroke-width="0.3" stroke-linejoin="round"/>
<path d="M-24.34,-15.49C-24.73,-16.27 -26.10,-18.60 -26.67,-20.15C-27.24,-21.70 -27.89,-23.38 -27.76,-24.81C-27.63,-26.23 -26.85,-27.58 -25.89,-28.69C-24.94,-29.80 -23.43,-30.66 -22.01,-31.48C-20.59,-32.31 -19.04,-33.09 -17.35,-33.66C-15.67,-34.23 -13.91,-34.61 -11.92,-34.90C-9.93,-35.18 -7.26,-35.16 -5.40,-35.37C-3.53,-35.57 -2.16,-36.14 -0.74,-36.14C0.68,-36.14 1.98,-35.83 3.14,-35.37C4.31,-34.90 5.26,-34.33 6.25,-33.35C7.23,-32.36 8.27,-30.76 9.04,-29.47C9.82,-28.17 10.26,-26.88 10.91,-25.58C11.55,-24.29 12.41,-23.00 12.93,-21.70C13.44,-20.41 13.75,-18.98 14.01,-17.82C14.27,-16.66 14.53,-15.75 14.48,-14.71C14.43,-13.68 14.09,-12.64 13.70,-11.61C13.31,-10.57 12.74,-9.54 12.15,-8.50C11.55,-7.47 10.47,-6.10 10.13,-5.40C9.79,-4.70 10.05,-5.14 10.13,-4.31C10.21,-3.48 10.73,-1.72 10.60,-0.43C10.47,0.86 9.95,2.29 9.35,3.45C8.76,4.62 7.80,5.70 7.02,6.56C6.25,7.41 5.39,7.93 4.70,8.58C4.00,9.22 3.22,9.79 2.83,10.44C2.44,11.09 2.83,11.81 2.37,12.46C1.90,13.11 0.81,13.75 0.04,14.32C-0.74,14.89 -1.52,15.41 -2.29,15.87C-3.07,16.34 -3.79,16.52 -4.62,17.12C-5.45,17.71 -6.17,18.54 -7.26,19.45C-8.35,20.35 -9.85,21.39 -11.14,22.55C-12.44,23.72 -13.81,25.27 -15.02,26.43C-16.24,27.60 -17.48,28.63 -18.44,29.54C-19.40,30.44 -19.79,39.37 -20.77,31.87C-21.75,24.36 -23.74,-7.60 -24.34,-15.49Z" fill="none" stroke="#052352" stroke-width="0.3" stroke-linejoin="round"/>
<path d="M-22.34,-14.43C-22.65,-15.05 -23.76,-16.93 -24.22,-18.18C-24.68,-19.44 -25.20,-20.79 -25.09,-21.94C-24.99,-23.09 -24.36,-24.17 -23.59,-25.07C-22.82,-25.97 -21.61,-26.66 -20.46,-27.33C-19.31,-27.99 -18.06,-28.62 -16.70,-29.08C-15.35,-29.54 -13.93,-29.85 -12.32,-30.08C-10.71,-30.31 -8.56,-30.29 -7.06,-30.46C-5.56,-30.62 -4.45,-31.08 -3.31,-31.08C-2.16,-31.08 -1.11,-30.83 -0.18,-30.46C0.76,-30.08 1.54,-29.62 2.33,-28.83C3.12,-28.04 3.96,-26.74 4.58,-25.70C5.21,-24.65 5.56,-23.61 6.09,-22.57C6.61,-21.52 7.30,-20.48 7.71,-19.44C8.13,-18.39 8.38,-17.25 8.59,-16.31C8.80,-15.37 9.01,-14.64 8.97,-13.80C8.92,-12.97 8.65,-12.13 8.34,-11.30C8.03,-10.46 7.57,-9.63 7.09,-8.79C6.61,-7.96 5.73,-6.85 5.46,-6.29C5.19,-5.73 5.40,-6.08 5.46,-5.41C5.52,-4.74 5.94,-3.33 5.84,-2.28C5.73,-1.24 5.31,-0.09 4.83,0.85C4.35,1.79 3.58,2.66 2.96,3.35C2.33,4.04 1.64,4.46 1.08,4.98C0.51,5.50 -0.11,5.96 -0.43,6.48C-0.74,7.01 -0.43,7.59 -0.80,8.11C-1.18,8.63 -2.05,9.16 -2.68,9.61C-3.31,10.07 -3.93,10.49 -4.56,10.87C-5.18,11.24 -5.77,11.39 -6.44,11.87C-7.10,12.35 -7.69,13.02 -8.56,13.75C-9.44,14.48 -10.65,15.31 -11.70,16.25C-12.74,17.19 -13.84,18.44 -14.83,19.38C-15.81,20.32 -16.81,21.16 -17.58,21.89C-18.35,22.62 -18.67,29.82 -19.46,23.76C-20.25,17.71 -21.86,-8.06 -22.34,-14.43Z" fill="none" stroke="#052352" stroke-width="0.3" stroke-linejoin="round"/>
<path d="M-20.34,-13.37C-20.58,-13.84 -21.42,-15.27 -21.77,-16.22C-22.11,-17.17 -22.51,-18.20 -22.43,-19.08C-22.35,-19.95 -21.88,-20.77 -21.29,-21.45C-20.70,-22.14 -19.78,-22.66 -18.91,-23.17C-18.04,-23.67 -17.09,-24.15 -16.06,-24.50C-15.02,-24.85 -13.95,-25.09 -12.72,-25.26C-11.50,-25.44 -9.87,-25.42 -8.73,-25.55C-7.59,-25.67 -6.74,-26.02 -5.87,-26.02C-5.00,-26.02 -4.21,-25.83 -3.49,-25.55C-2.78,-25.26 -2.19,-24.91 -1.59,-24.31C-0.99,-23.71 -0.35,-22.72 0.12,-21.93C0.60,-21.14 0.87,-20.34 1.27,-19.55C1.66,-18.76 2.19,-17.96 2.50,-17.17C2.82,-16.38 3.01,-15.51 3.17,-14.79C3.33,-14.08 3.49,-13.52 3.45,-12.89C3.42,-12.25 3.22,-11.62 2.98,-10.99C2.74,-10.35 2.39,-9.72 2.03,-9.08C1.66,-8.45 1.00,-7.61 0.79,-7.18C0.58,-6.75 0.74,-7.02 0.79,-6.51C0.84,-6.01 1.15,-4.93 1.07,-4.13C1.00,-3.34 0.68,-2.47 0.31,-1.75C-0.05,-1.04 -0.64,-0.37 -1.11,0.15C-1.59,0.67 -2.11,0.99 -2.54,1.39C-2.97,1.78 -3.45,2.13 -3.68,2.53C-3.92,2.92 -3.68,3.37 -3.97,3.76C-4.25,4.16 -4.92,4.56 -5.40,4.91C-5.87,5.26 -6.35,5.57 -6.82,5.86C-7.30,6.14 -7.74,6.25 -8.25,6.62C-8.76,6.98 -9.20,7.49 -9.87,8.05C-10.54,8.60 -11.46,9.24 -12.25,9.95C-13.04,10.66 -13.88,11.62 -14.63,12.33C-15.37,13.04 -16.13,13.68 -16.72,14.23C-17.31,14.79 -17.55,20.26 -18.15,15.66C-18.75,11.06 -19.97,-8.53 -20.34,-13.37Z" fill="none" stroke="#052352" stroke-width="0.3" stroke-linejoin="round"/>
<path d="M-18.34,-12.30C-18.50,-12.63 -19.07,-13.60 -19.31,-14.26C-19.55,-14.91 -19.82,-15.61 -19.77,-16.21C-19.71,-16.81 -19.39,-17.37 -18.99,-17.84C-18.59,-18.30 -17.96,-18.66 -17.36,-19.01C-16.76,-19.36 -16.11,-19.68 -15.41,-19.92C-14.70,-20.16 -13.96,-20.32 -13.13,-20.44C-12.29,-20.56 -11.17,-20.55 -10.39,-20.64C-9.61,-20.72 -9.04,-20.96 -8.44,-20.96C-7.84,-20.96 -7.30,-20.83 -6.81,-20.64C-6.32,-20.44 -5.92,-20.20 -5.51,-19.79C-5.10,-19.38 -4.66,-18.71 -4.34,-18.16C-4.01,-17.62 -3.83,-17.08 -3.56,-16.53C-3.28,-15.99 -2.93,-15.45 -2.71,-14.91C-2.49,-14.36 -2.36,-13.77 -2.25,-13.28C-2.14,-12.79 -2.04,-12.41 -2.06,-11.98C-2.08,-11.54 -2.22,-11.11 -2.38,-10.67C-2.55,-10.24 -2.78,-9.81 -3.03,-9.37C-3.28,-8.94 -3.74,-8.36 -3.88,-8.07C-4.02,-7.78 -3.91,-7.96 -3.88,-7.61C-3.85,-7.27 -3.63,-6.53 -3.69,-5.99C-3.74,-5.44 -3.96,-4.85 -4.21,-4.36C-4.46,-3.87 -4.86,-3.41 -5.18,-3.06C-5.51,-2.70 -5.87,-2.48 -6.16,-2.21C-6.45,-1.94 -6.78,-1.70 -6.94,-1.43C-7.10,-1.16 -6.94,-0.85 -7.14,-0.58C-7.33,-0.31 -7.79,-0.04 -8.11,0.20C-8.44,0.44 -8.76,0.66 -9.09,0.85C-9.42,1.05 -9.72,1.12 -10.07,1.37C-10.41,1.62 -10.72,1.97 -11.17,2.35C-11.63,2.73 -12.26,3.16 -12.80,3.65C-13.34,4.14 -13.92,4.79 -14.43,5.28C-14.94,5.77 -15.46,6.20 -15.86,6.58C-16.26,6.96 -16.43,10.70 -16.84,7.56C-17.25,4.41 -18.09,-8.99 -18.34,-12.30Z" fill="none" stroke="#052352" stroke-width="0.3" stroke-linejoin="round"/>
<path d="M-16.50,-11.33C-16.60,-11.52 -16.93,-12.08 -17.07,-12.46C-17.20,-12.83 -17.36,-13.24 -17.33,-13.58C-17.30,-13.93 -17.11,-14.25 -16.88,-14.52C-16.65,-14.79 -16.28,-15.00 -15.94,-15.20C-15.59,-15.40 -15.22,-15.59 -14.81,-15.72C-14.40,-15.86 -13.98,-15.96 -13.50,-16.02C-13.01,-16.09 -12.37,-16.09 -11.92,-16.14C-11.47,-16.19 -11.14,-16.32 -10.79,-16.32C-10.45,-16.32 -10.13,-16.25 -9.85,-16.14C-9.57,-16.02 -9.34,-15.89 -9.10,-15.65C-8.86,-15.41 -8.61,-15.02 -8.43,-14.71C-8.24,-14.40 -8.13,-14.08 -7.97,-13.77C-7.82,-13.46 -7.61,-13.14 -7.49,-12.83C-7.36,-12.52 -7.29,-12.17 -7.22,-11.89C-7.16,-11.61 -7.10,-11.39 -7.11,-11.14C-7.12,-10.89 -7.20,-10.64 -7.30,-10.39C-7.39,-10.14 -7.53,-9.89 -7.67,-9.64C-7.82,-9.39 -8.08,-9.06 -8.16,-8.89C-8.24,-8.72 -8.18,-8.82 -8.16,-8.62C-8.14,-8.42 -8.02,-8.00 -8.05,-7.68C-8.08,-7.37 -8.21,-7.03 -8.35,-6.75C-8.49,-6.46 -8.73,-6.20 -8.91,-5.99C-9.10,-5.79 -9.31,-5.66 -9.48,-5.51C-9.65,-5.35 -9.83,-5.21 -9.93,-5.05C-10.02,-4.90 -9.93,-4.72 -10.04,-4.57C-10.15,-4.41 -10.42,-4.25 -10.60,-4.12C-10.79,-3.98 -10.98,-3.85 -11.17,-3.74C-11.36,-3.63 -11.53,-3.58 -11.73,-3.44C-11.93,-3.30 -12.11,-3.10 -12.37,-2.88C-12.63,-2.66 -13.00,-2.41 -13.31,-2.12C-13.62,-1.84 -13.95,-1.47 -14.25,-1.19C-14.54,-0.90 -14.84,-0.65 -15.07,-0.43C-15.31,-0.22 -15.40,1.94 -15.64,0.13C-15.88,-1.69 -16.36,-9.42 -16.50,-11.33Z" fill="none" stroke="#052352" stroke-width="0.3" stroke-linejoin="round"/>
<use href="#landhalo" stroke-width="3.0"/>
<use href="#landmain"/>
<use href="#Lellesmere" fill="#d9d9d9"/>
<use href="#Laxel" fill="#d9d9d9"/>
<use href="#Ldevon" fill="#d9d9d9"/>
<use href="#Lbaffin" fill="#d9d9d9"/>
<use href="#Lsouthampton" fill="#d9d9d9"/>
<use href="#Lbanks" fill="#d9d9d9"/>
<use href="#Lvictoria" fill="#d9d9d9"/>
<use href="#Lpwales" fill="#d9d9d9"/>
<use href="#Lsomerset" fill="#d9d9d9"/>
<use href="#landisl"/>
<path d="M-60.7,-11.8L-52.0,-13.1L-43.2,-11.1L-34.4,-8.1L-30.7,-5.1L-34.4,-5.6L-43.2,-8.1L-52.0,-9.6L-59.5,-8.6Z" fill="#08306b" stroke="none" stroke-width="0"/>
<path d="M-57.0,-0.8L-48.2,-1.8L-41.9,0.4L-47.0,1.7L-54.5,1.9Z" fill="#2a6fb0" stroke="none" stroke-width="0"/>
<path d="M-41.9,6.9L-31.9,7.9L-23.2,6.9L-18.2,9.9L-26.9,10.9L-36.9,10.4Z" fill="#08306b" stroke="none" stroke-width="0"/>
<path d="M-36.9,-21.4L-30.7,-18.9L-29.4,-11.3L-34.4,-12.6Z" fill="#08306b" stroke="none" stroke-width="0"/>
<path d="M-41.9,-7.1L-34.4,-5.1L-29.4,-1.3L-26.9,3.7L-31.9,2.4L-38.2,-1.3Z" fill="#08306b" stroke="none" stroke-width="0"/>
<path d="M21.2,-47.7L26.2,-46.7L28.7,-40.6L27.2,-35.1L24.2,-37.6L23.2,-43.1Z" fill="#05142e" stroke="none" stroke-width="0"/>
<path d="M-28,-10L0,0L27,4" fill="none" stroke="#03142f" stroke-width="0.6"/>
<g stroke="#777" stroke-width="0.4" stroke-dasharray="0.5 1.0" fill="none"><circle r="42.04"/><path d="M-0.00,-70.80L0.00,70.80M-61.31,-35.40L61.31,35.40M-61.31,35.40L61.31,-35.40"/></g>
</g>
<circle r="70.80" fill="none" stroke="#222" stroke-width="1.15"/>
<circle r="2.6" fill="#fff"/><circle r="1.3" fill="#000"/>
<text x="0" y="-73.40" class="ml" text-anchor="middle">180°</text>
<text x="0" y="80.40" class="ml" text-anchor="middle">0°</text>
<text transform="translate(-66.68,-38.50) rotate(-60)" class="ml" text-anchor="middle" dy="3">120°W</text>
<text transform="translate(66.68,-38.50) rotate(60)" class="ml" text-anchor="middle" dy="3">120°E</text>
<text transform="translate(-66.68,38.50) rotate(60)" class="ml" text-anchor="middle" dy="3">60°W</text>
<text transform="translate(66.68,38.50) rotate(-60)" class="ml" text-anchor="middle" dy="3">60°E</text>
<text x="-2.9" y="-39.14" class="ml75">-</text><text x="3.1" y="-39.14" class="ml75">75°N</text>
</g>
<text x="423.2" y="72.4" class="tag">(c)</text>
<g transform="translate(330.60,335.10)">
<g clip-path="url(#mclip)">
<circle r="71.80" fill="#f5593d"/>
<path d="M-1.23,-58.33C0.65,-58.95 5.24,-62.71 10.04,-62.08C14.84,-61.46 22.15,-58.33 27.58,-54.57C33.00,-50.81 38.85,-44.97 42.60,-39.54C46.36,-34.12 48.45,-27.44 50.11,-22.01C51.78,-16.59 52.20,-11.58 52.62,-6.99C53.04,-2.39 53.04,1.78 52.62,5.54C52.20,9.29 51.03,12.42 50.11,15.55C49.20,18.68 48.86,22.73 47.11,24.32C45.36,25.90 42.02,24.24 39.60,25.07C37.18,25.90 34.67,28.28 32.58,29.33C30.50,30.37 28.83,30.20 27.07,31.33C25.32,32.46 23.65,34.75 22.07,36.09C20.48,37.43 19.14,38.22 17.56,39.35C15.97,40.47 14.43,42.56 12.55,42.85C10.67,43.14 8.38,40.76 6.29,41.10C4.20,41.43 2.24,43.77 0.03,44.85C-2.19,45.94 -4.90,46.44 -6.99,47.61C-9.07,48.78 -10.41,49.91 -12.49,51.87C-14.58,53.83 -17.42,57.17 -19.51,59.38C-21.59,61.59 -22.43,65.35 -25.02,65.14C-27.60,64.93 -32.53,62.22 -35.03,58.13C-37.54,54.04 -40.04,46.02 -40.04,40.60C-40.04,35.17 -33.78,27.87 -35.03,25.57C-36.29,23.28 -43.80,27.24 -47.56,26.82C-51.31,26.41 -55.07,24.94 -57.57,23.07C-60.08,21.19 -60.91,18.06 -62.58,15.55C-64.25,13.05 -66.34,10.96 -67.59,8.04C-68.84,5.12 -70.51,3.03 -70.10,-1.98C-69.68,-6.99 -67.17,-16.59 -65.09,-22.01C-63.00,-27.44 -60.50,-30.78 -57.57,-34.53C-54.65,-38.29 -51.31,-41.42 -47.56,-44.55C-43.80,-47.68 -39.21,-50.81 -35.03,-53.32C-30.86,-55.82 -25.60,-56.66 -22.51,-59.58C-19.42,-62.50 -17.59,-71.27 -16.50,-70.85C-15.42,-70.43 -16.59,-60.54 -16.00,-57.07C-15.42,-53.61 -14.08,-51.44 -13.00,-50.06C-11.91,-48.68 -10.57,-48.56 -9.49,-48.81C-8.40,-49.06 -7.15,-49.77 -6.48,-51.56C-5.82,-53.36 -5.73,-56.36 -5.48,-59.58C-5.23,-62.79 -5.69,-71.06 -4.98,-70.85C-4.27,-70.64 -1.85,-60.41 -1.23,-58.33Z" fill="#f98d66" stroke="#3a2a22" stroke-width="0.3" stroke-linejoin="round"/>
<path d="M-2.23,-51.31C-1.43,-51.77 0.49,-54.15 2.53,-54.07C4.58,-53.98 7.54,-51.98 10.04,-50.81C12.55,-49.64 15.35,-48.52 17.56,-47.06C19.77,-45.60 21.65,-43.63 23.32,-42.05C24.99,-40.46 26.36,-38.88 27.58,-37.54C28.79,-36.20 29.33,-35.79 30.58,-34.03C31.83,-32.28 33.92,-29.65 35.09,-27.02C36.26,-24.39 37.26,-21.18 37.59,-18.26C37.93,-15.33 37.76,-12.62 37.09,-9.49C36.42,-6.36 34.59,-2.39 33.59,0.53C32.58,3.45 31.67,5.54 31.08,8.04C30.50,10.54 30.50,13.38 30.08,15.55C29.66,17.72 29.24,19.81 28.58,21.06C27.91,22.32 26.99,21.98 26.07,23.07C25.15,24.15 24.40,26.07 23.07,27.57C21.73,29.08 19.73,30.08 18.06,32.08C16.39,34.09 15.01,38.64 13.05,39.60C11.09,40.56 8.46,37.47 6.29,37.84C4.12,38.22 2.24,40.72 0.03,41.85C-2.19,42.98 -4.90,43.44 -6.99,44.60C-9.07,45.77 -10.41,46.94 -12.49,48.86C-14.58,50.78 -17.21,53.83 -19.51,56.12C-21.80,58.42 -23.68,63.14 -26.27,62.64C-28.86,62.13 -32.95,58.04 -35.03,53.12C-37.12,48.19 -38.79,39.55 -38.79,33.08C-38.79,26.61 -34.20,17.85 -35.03,14.30C-35.87,10.75 -41.09,13.68 -43.80,11.80C-46.51,9.92 -49.77,6.37 -51.31,3.03C-52.86,-0.31 -53.69,-4.69 -53.07,-8.24C-52.44,-11.79 -49.35,-14.92 -47.56,-18.26C-45.76,-21.59 -43.97,-25.31 -42.30,-28.27C-40.63,-31.24 -39.71,-33.70 -37.54,-36.04C-35.37,-38.37 -32.20,-40.59 -29.27,-42.30C-26.35,-44.01 -22.64,-45.22 -20.01,-46.30C-17.38,-47.39 -15.17,-48.68 -13.50,-48.81C-11.83,-48.93 -11.24,-47.01 -9.99,-47.06C-8.74,-47.10 -7.28,-48.35 -5.98,-49.06C-4.69,-49.77 -2.85,-50.94 -2.23,-51.31Z" fill="#fbb28a" stroke="#3a2a22" stroke-width="0.3" stroke-linejoin="round"/>
<path d="M0.03,-47.56C1.40,-47.35 5.54,-46.93 8.29,-46.30C11.05,-45.68 13.97,-45.05 16.56,-43.80C19.14,-42.55 21.56,-40.67 23.82,-38.79C26.07,-36.91 28.33,-34.83 30.08,-32.53C31.83,-30.24 33.38,-27.65 34.34,-25.02C35.30,-22.39 35.80,-19.76 35.84,-16.75C35.88,-13.75 35.34,-10.07 34.59,-6.99C33.84,-3.90 32.17,-1.14 31.33,1.78C30.50,4.70 30.29,7.75 29.58,10.54C28.87,13.34 28.03,16.26 27.07,18.56C26.11,20.85 25.40,22.52 23.82,24.32C22.23,26.11 19.44,27.28 17.56,29.33C15.68,31.37 14.43,35.76 12.55,36.59C10.67,37.43 8.38,34.00 6.29,34.34C4.20,34.67 2.24,37.47 0.03,38.59C-2.19,39.72 -4.81,39.93 -6.99,41.10C-9.16,42.27 -10.83,43.52 -13.00,45.61C-15.17,47.69 -17.59,51.12 -20.01,53.62C-22.43,56.12 -25.02,61.55 -27.52,60.63C-30.03,59.71 -33.36,53.54 -35.03,48.11C-36.70,42.68 -37.46,33.71 -37.54,28.08C-37.62,22.44 -34.28,17.22 -35.54,14.30C-36.79,11.38 -42.42,12.84 -45.05,10.54C-47.68,8.25 -50.14,3.87 -51.31,0.53C-52.48,-2.81 -52.90,-6.36 -52.06,-9.49C-51.23,-12.62 -48.18,-15.50 -46.30,-18.26C-44.43,-21.01 -42.42,-23.47 -40.79,-26.02C-39.17,-28.57 -38.46,-31.24 -36.54,-33.53C-34.62,-35.83 -32.03,-38.08 -29.27,-39.79C-26.52,-41.50 -23.31,-42.72 -20.01,-43.80C-16.71,-44.89 -12.83,-45.68 -9.49,-46.30C-6.15,-46.93 -1.56,-47.35 0.03,-47.56Z" fill="#fbcfac" stroke="#3a2a22" stroke-width="0.3" stroke-linejoin="round"/>
<path d="M1.03,-43.80C2.74,-43.55 8.00,-43.34 11.30,-42.30C14.59,-41.25 18.18,-39.38 20.81,-37.54C23.44,-35.70 25.32,-33.70 27.07,-31.28C28.83,-28.86 30.46,-25.77 31.33,-23.01C32.21,-20.26 32.46,-17.63 32.33,-14.75C32.21,-11.87 31.25,-8.70 30.58,-5.73C29.91,-2.77 28.91,0.32 28.33,3.03C27.74,5.74 27.62,8.25 27.07,10.54C26.53,12.84 25.91,14.80 25.07,16.81C24.24,18.81 23.65,20.77 22.07,22.57C20.48,24.36 17.22,25.74 15.55,27.57C13.88,29.41 13.59,33.00 12.05,33.58C10.50,34.17 8.29,30.96 6.29,31.08C4.28,31.21 2.24,33.29 0.03,34.34C-2.19,35.38 -4.69,36.01 -6.99,37.34C-9.28,38.68 -11.37,40.05 -13.75,42.35C-16.13,44.65 -18.76,48.49 -21.26,51.12C-23.76,53.75 -26.48,59.05 -28.77,58.13C-31.07,57.21 -33.66,50.61 -35.03,45.61C-36.41,40.60 -36.87,33.29 -37.04,28.08C-37.20,22.86 -34.70,17.31 -36.04,14.30C-37.37,11.30 -42.63,12.34 -45.05,10.04C-47.47,7.75 -49.56,3.78 -50.56,0.53C-51.56,-2.73 -52.19,-6.65 -51.06,-9.49C-49.94,-12.33 -45.84,-14.25 -43.80,-16.50C-41.75,-18.76 -40.17,-20.72 -38.79,-23.01C-37.41,-25.31 -37.12,-28.02 -35.54,-30.28C-33.95,-32.53 -31.86,-34.78 -29.27,-36.54C-26.69,-38.29 -23.31,-39.67 -20.01,-40.80C-16.71,-41.92 -13.00,-42.80 -9.49,-43.30C-5.98,-43.80 -0.72,-43.72 1.03,-43.80Z" fill="#fde6d2" stroke="#3a2a22" stroke-width="0.3" stroke-linejoin="round"/>
<path d="M0.03,-40.80C1.74,-40.63 7.16,-40.67 10.30,-39.79C13.43,-38.92 16.35,-37.29 18.81,-35.54C21.27,-33.78 23.53,-31.70 25.07,-29.28C26.62,-26.85 27.41,-23.81 28.08,-21.01C28.74,-18.21 29.50,-15.67 29.08,-12.50C28.66,-9.32 26.41,-5.11 25.57,-1.98C24.74,1.15 24.70,3.87 24.07,6.29C23.44,8.71 22.90,10.46 21.82,12.55C20.73,14.64 19.48,16.89 17.56,18.81C15.64,20.73 12.88,22.69 10.30,24.07C7.71,25.45 4.79,25.70 2.03,27.07C-0.72,28.45 -3.81,32.17 -6.23,32.33C-8.65,32.50 -10.41,30.45 -12.49,28.08C-14.58,25.70 -16.25,20.77 -18.76,18.06C-21.26,15.34 -24.18,13.38 -27.52,11.80C-30.86,10.21 -35.45,10.34 -38.79,8.54C-42.13,6.75 -45.89,3.95 -47.56,1.03C-49.23,-1.89 -49.85,-6.32 -48.81,-8.99C-47.76,-11.66 -43.42,-13.37 -41.30,-15.00C-39.17,-16.63 -37.16,-16.92 -36.04,-18.76C-34.91,-20.59 -35.66,-23.56 -34.53,-26.02C-33.41,-28.48 -31.53,-31.61 -29.27,-33.53C-27.02,-35.45 -24.14,-36.45 -21.01,-37.54C-17.88,-38.62 -14.00,-39.50 -10.49,-40.04C-6.99,-40.59 -1.73,-40.67 0.03,-40.80Z" fill="#ffffff" stroke="#3a2a22" stroke-width="0.3" stroke-linejoin="round"/>
<path d="M-6.33,-35.54C-4.94,-35.60 -0.75,-36.11 2.03,-35.94C4.81,-35.76 7.94,-35.43 10.37,-34.48C12.80,-33.54 14.89,-32.02 16.63,-30.28C18.37,-28.53 19.77,-26.27 20.81,-24.02C21.86,-21.76 22.37,-19.36 22.89,-16.75C23.41,-14.15 24.47,-10.83 23.94,-8.39C23.42,-5.95 20.81,-4.54 19.76,-2.10C18.72,0.34 18.73,3.80 17.68,6.24C16.64,8.67 15.07,10.61 13.50,12.52C11.94,14.44 10.20,16.17 8.29,17.73C6.38,19.30 3.95,21.05 2.03,21.91C0.11,22.78 -1.91,23.46 -3.23,22.94C-4.55,22.42 -5.22,20.35 -5.91,18.78C-6.60,17.22 -6.42,14.94 -7.36,13.55C-8.30,12.16 -10.14,11.46 -11.54,10.42C-12.94,9.38 -13.50,8.52 -15.75,7.29C-18.00,6.06 -22.64,5.20 -25.02,3.03C-27.40,0.86 -28.77,-2.60 -30.03,-5.73C-31.28,-8.86 -32.30,-13.91 -32.53,-15.75C-32.76,-17.59 -31.92,-15.38 -31.38,-16.75C-30.84,-18.13 -30.49,-21.76 -29.27,-24.02C-28.06,-26.27 -26.32,-28.71 -24.07,-30.28C-21.81,-31.85 -18.71,-32.56 -15.75,-33.43C-12.80,-34.31 -7.90,-35.19 -6.33,-35.54Z" fill="#cfe4fa" stroke="#3a2a22" stroke-width="0.3" stroke-linejoin="round"/>
<path d="M-35.03,65.14C-34.07,64.39 -31.97,62.26 -29.27,60.63C-26.58,59.00 -22.07,57.04 -18.86,55.37C-15.64,53.70 -13.12,51.99 -9.99,50.61C-6.86,49.24 -2.79,48.11 -0.07,47.11C2.64,46.11 4.20,44.63 6.29,44.60C8.38,44.58 10.18,47.54 12.47,46.96C14.77,46.37 17.63,43.01 20.06,41.10C22.50,39.18 24.99,37.13 27.07,35.46C29.16,33.79 30.50,32.81 32.58,31.08C34.67,29.35 37.18,26.28 39.60,25.07C42.02,23.86 44.94,25.40 47.11,23.82C49.28,22.23 50.87,17.77 52.62,15.55C54.37,13.34 55.12,8.46 57.63,10.54C60.13,12.63 68.48,20.14 67.65,28.08C66.81,36.01 59.30,49.78 52.62,58.13C45.94,66.48 36.34,73.99 27.58,78.16C18.81,82.34 10.46,83.17 0.03,83.17C-10.41,83.17 -29.19,81.17 -35.03,78.16C-40.88,75.16 -35.03,67.31 -35.03,65.14Z" fill="#ee2c20" stroke="#3a2a22" stroke-width="0.3" stroke-linejoin="round"/>
<path d="M-25.02,73.15C-23.99,71.74 -21.36,66.85 -18.86,64.64C-16.35,62.43 -13.12,61.44 -9.99,59.88C-6.86,58.32 -2.79,56.55 -0.07,55.30C2.64,54.05 4.20,53.06 6.29,52.37C8.38,51.67 10.18,52.24 12.47,51.12C14.77,49.99 17.63,47.44 20.06,45.61C22.50,43.77 24.57,41.35 27.07,40.10C29.58,38.84 32.08,37.80 35.09,38.09C38.09,38.39 43.02,38.51 45.11,41.85C47.19,45.19 50.53,52.08 47.61,58.13C44.69,64.18 35.51,73.99 27.58,78.16C19.64,82.34 8.79,82.75 0.03,83.17C-8.74,83.59 -20.84,82.34 -25.02,80.67C-29.19,79.00 -25.02,74.41 -25.02,73.15Z" fill="#cd171d" stroke="#3a2a22" stroke-width="0.3" stroke-linejoin="round"/>
<path d="M-16.25,75.66C-15.63,74.62 -14.04,71.28 -12.49,69.40C-10.95,67.52 -9.06,65.87 -6.99,64.39C-4.91,62.91 -2.29,61.99 -0.07,60.53C2.14,59.07 4.39,57.49 6.29,55.62C8.18,53.76 9.92,51.12 11.30,49.36C12.67,47.61 13.43,45.73 14.55,45.11C15.68,44.48 15.05,43.44 18.06,45.61C21.06,47.78 31.00,52.70 32.58,58.13C34.17,63.55 33.00,73.99 27.58,78.16C22.15,82.34 7.33,82.75 0.03,83.17C-7.28,83.59 -13.54,81.92 -16.25,80.67C-18.96,79.42 -16.25,76.49 -16.25,75.66Z" fill="#ad1224" stroke="#3a2a22" stroke-width="0.3" stroke-linejoin="round"/>
<path d="M-1.23,74.41C-0.93,73.45 -0.52,70.94 0.53,68.65C1.57,66.35 3.45,63.22 5.04,60.63C6.62,58.04 8.46,55.46 10.04,53.12C11.63,50.78 13.30,47.53 14.55,46.61C15.80,45.69 16.97,45.27 17.56,47.61C18.14,49.95 18.06,55.96 18.06,60.63C18.06,65.31 20.77,73.36 17.56,75.66C14.34,77.95 1.91,74.62 -1.23,74.41Z" fill="#7c0a2c" stroke="#3a2a22" stroke-width="0.3" stroke-linejoin="round"/>
<path d="M-15.50,-72.10C-13.83,-72.10 -6.99,-74.19 -5.48,-72.10C-3.98,-70.01 -6.07,-62.83 -6.48,-59.58C-6.90,-56.32 -7.32,-54.07 -7.99,-52.57C-8.65,-51.06 -9.66,-50.65 -10.49,-50.56C-11.33,-50.48 -12.24,-50.77 -13.00,-52.06C-13.75,-53.36 -14.58,-54.99 -15.00,-58.33C-15.42,-61.67 -15.42,-69.80 -15.50,-72.10Z" fill="#ee2c20" stroke="#3a2a22" stroke-width="0.3" stroke-linejoin="round"/>
<path d="M-14.50,-72.10C-13.41,-72.10 -8.91,-73.56 -7.99,-72.10C-7.07,-70.64 -8.49,-65.63 -8.99,-63.33C-9.49,-61.04 -10.32,-58.74 -10.99,-58.33C-11.66,-57.91 -12.49,-59.58 -13.00,-60.83C-13.50,-62.08 -13.75,-63.96 -14.00,-65.84C-14.25,-67.72 -14.41,-71.06 -14.50,-72.10Z" fill="#ad1224" stroke="#3a2a22" stroke-width="0.3" stroke-linejoin="round"/>
<path d="M-60.58,26.82C-58.83,27.03 -53.19,28.20 -50.06,28.08C-46.93,27.95 -42.96,25.24 -41.80,26.07C-40.63,26.91 -41.88,30.83 -43.05,33.08C-44.22,35.34 -46.39,38.34 -48.81,39.60C-51.23,40.85 -54.86,41.27 -57.57,40.60C-60.29,39.93 -64.59,37.88 -65.09,35.59C-65.59,33.29 -61.33,28.28 -60.58,26.82Z" fill="#ee2c20" stroke="#3a2a22" stroke-width="0.3" stroke-linejoin="round"/>
<path d="M-69.59,10.04C-67.80,10.21 -60.75,10.34 -58.83,11.05C-56.91,11.76 -56.40,13.63 -58.07,14.30C-59.74,14.97 -66.92,15.76 -68.84,15.05C-70.76,14.34 -69.47,10.88 -69.59,10.04Z" fill="#ee2c20" stroke="#3a2a22" stroke-width="0.3" stroke-linejoin="round"/>
<use href="#landhalo" stroke-width="4.2"/>
<use href="#landmain"/>
<use href="#Lellesmere" fill="#d9d9d9"/>
<use href="#Laxel" fill="#d9d9d9"/>
<use href="#Ldevon" fill="#d9d9d9"/>
<use href="#Lbaffin" fill="#d9d9d9"/>
<use href="#Lsouthampton" fill="#d9d9d9"/>
<use href="#Lbanks" fill="#d9d9d9"/>
<use href="#Lvictoria" fill="#ffffff"/>
<use href="#Lpwales" fill="#ffffff"/>
<use href="#Lsomerset" fill="#ffffff"/>
<use href="#landisl"/>
<path d="M-61.3,-11.2L-52.6,-12.0L-43.8,-10.2L-43.5,-9.0L-52.6,-10.5L-60.6,-9.7Z" fill="#f98d66" stroke="none" stroke-width="0"/>
<path d="M-58.8,-0.2L-48.8,-0.7L-45.1,1.0L-48.8,1.0L-57.6,1.3Z" fill="#f98d66" stroke="none" stroke-width="0"/>
<path d="M-14.1,-70.0L-11.3,-69.4L-11.0,-66.6L-10.2,-65.0L-9.9,-60.6L-12.4,-56.2L-13.8,-59.0L-15.9,-62.2L-13.8,-65.3L-14.3,-67.2Z" fill="#cd171d" stroke="#3a2a22" stroke-width="0.25"/>
<path d="M-13.8,-70.3L-11.6,-69.7L-11.5,-66.9L-11.0,-65.0L-11.8,-61.9L-13.4,-63.4L-13.8,-66.1Z" fill="#ad1224" stroke="#3a2a22" stroke-width="0.25"/>
<g stroke="#777" stroke-width="0.4" stroke-dasharray="0.5 1.0" fill="none"><circle r="42.04"/><path d="M-0.00,-70.80L0.00,70.80M-61.31,-35.40L61.31,35.40M-61.31,35.40L61.31,-35.40"/></g>
</g>
<circle r="70.80" fill="none" stroke="#222" stroke-width="1.15"/>
<circle r="2.0" fill="#fff"/><circle r="1.25" fill="#000"/>
<text x="0" y="-73.40" class="ml" text-anchor="middle">180°</text>
<text x="0" y="80.40" class="ml" text-anchor="middle">0°</text>
<text transform="translate(-66.68,-38.50) rotate(-60)" class="ml" text-anchor="middle" dy="3">120°W</text>
<text transform="translate(66.68,-38.50) rotate(60)" class="ml" text-anchor="middle" dy="3">120°E</text>
<text transform="translate(-66.68,38.50) rotate(60)" class="ml" text-anchor="middle" dy="3">60°W</text>
<text transform="translate(66.68,38.50) rotate(-60)" class="ml" text-anchor="middle" dy="3">60°E</text>
<text x="-2.9" y="-39.14" class="ml75">-</text><text x="3.1" y="-39.14" class="ml75">75°N</text>
</g>
<text x="254.5" y="271.8" class="tag">(e)</text>
<g transform="translate(500.50,336.30)">
<g clip-path="url(#mclip)">
<circle r="71.80" fill="#f6faff"/>
<path d="M-37.54,-27.52C-35.98,-28.17 -32.07,-30.39 -28.15,-31.43C-24.24,-32.47 -18.50,-33.18 -14.07,-33.78C-9.63,-34.38 -5.98,-34.90 -1.54,-35.03C2.89,-35.16 8.89,-35.16 12.54,-34.56C16.19,-33.96 18.02,-33.78 20.37,-31.43C22.72,-29.08 24.80,-23.87 26.63,-20.47C28.46,-17.08 31.59,-13.82 31.32,-11.08C31.06,-8.34 27.15,-6.65 25.06,-4.04C22.98,-1.43 21.02,1.83 18.80,4.57C16.59,7.31 14.24,9.79 11.76,12.39C9.28,15.00 6.41,17.61 3.93,20.22C1.46,22.83 -0.89,25.18 -3.11,28.05C-5.33,30.92 -8.46,38.61 -9.37,37.44C-10.28,36.26 -7.67,25.18 -8.59,21.00C-9.50,16.83 -12.37,14.74 -14.85,12.39C-17.33,10.05 -20.72,9.13 -23.46,6.92C-26.20,4.70 -29.07,2.22 -31.28,-0.91C-33.50,-4.04 -35.72,-7.43 -36.76,-11.87C-37.80,-16.30 -37.41,-24.91 -37.54,-27.52Z" fill="#deebf7" stroke="#0b1c33" stroke-width="0.3" stroke-linejoin="round"/>
<path d="M-35.53,-25.73C-34.04,-26.34 -30.28,-28.43 -26.59,-29.42C-22.90,-30.41 -17.55,-31.10 -13.40,-31.65C-9.24,-32.21 -5.74,-32.67 -1.66,-32.75C2.42,-32.83 7.78,-32.75 11.09,-32.12C14.39,-31.50 16.06,-31.17 18.18,-28.99C20.29,-26.82 22.16,-22.14 23.77,-19.07C25.37,-15.99 28.05,-13.07 27.79,-10.52C27.53,-7.98 24.09,-6.28 22.20,-3.82C20.31,-1.36 18.49,1.64 16.46,4.23C14.42,6.82 12.23,9.23 9.97,11.72C7.71,14.22 5.12,16.77 2.88,19.21C0.65,21.66 -1.47,23.82 -3.44,26.37C-5.42,28.92 -8.11,35.59 -8.97,34.53C-9.82,33.47 -7.61,23.78 -8.59,20.00C-9.57,16.21 -12.48,14.09 -14.85,11.84C-17.21,9.58 -20.29,8.63 -22.79,6.47C-25.28,4.31 -27.84,1.85 -29.83,-1.13C-31.82,-4.11 -33.80,-7.32 -34.75,-11.42C-35.70,-15.52 -35.40,-23.34 -35.53,-25.73Z" fill="#c6dbef" stroke="#0b1c33" stroke-width="0.3" stroke-linejoin="round"/>
<path d="M-33.52,-23.94C-32.10,-24.52 -28.49,-26.47 -25.02,-27.41C-21.56,-28.34 -16.60,-29.02 -12.72,-29.53C-8.85,-30.04 -5.49,-30.44 -1.77,-30.47C1.96,-30.50 6.68,-30.34 9.64,-29.69C12.59,-29.03 14.11,-28.56 15.99,-26.56C17.86,-24.55 19.53,-20.42 20.91,-17.66C22.28,-14.89 24.52,-12.31 24.26,-9.97C24.00,-7.62 21.03,-5.90 19.34,-3.59C17.65,-1.28 15.97,1.46 14.11,3.90C12.25,6.34 10.23,8.67 8.18,11.05C6.14,13.44 3.83,15.93 1.83,18.21C-0.16,20.48 -2.05,22.46 -3.78,24.69C-5.51,26.93 -7.76,32.57 -8.57,31.62C-9.37,30.67 -7.54,22.38 -8.59,18.99C-9.63,15.60 -12.59,13.44 -14.85,11.28C-17.10,9.12 -19.86,8.13 -22.12,6.02C-24.37,3.92 -26.61,1.48 -28.38,-1.36C-30.15,-4.19 -31.88,-7.21 -32.74,-10.97C-33.59,-14.74 -33.39,-21.78 -33.52,-23.94Z" fill="#9ecae1" stroke="#0b1c33" stroke-width="0.3" stroke-linejoin="round"/>
<path d="M-31.51,-22.15C-30.16,-22.69 -26.70,-24.52 -23.46,-25.39C-20.21,-26.27 -15.65,-26.94 -12.05,-27.41C-8.46,-27.87 -5.25,-28.21 -1.88,-28.19C1.49,-28.16 5.57,-27.93 8.18,-27.25C10.79,-26.57 12.15,-25.95 13.79,-24.12C15.44,-22.29 16.89,-18.70 18.04,-16.25C19.20,-13.80 20.99,-11.55 20.73,-9.41C20.47,-7.26 17.97,-5.53 16.48,-3.37C14.98,-1.21 13.44,1.27 11.76,3.56C10.08,5.85 8.22,8.11 6.39,10.38C4.56,12.66 2.53,15.10 0.78,17.20C-0.97,19.31 -2.63,21.10 -4.12,23.02C-5.61,24.93 -7.42,29.56 -8.16,28.72C-8.91,27.88 -7.47,20.98 -8.59,17.98C-9.70,14.98 -12.71,12.79 -14.85,10.72C-16.99,8.65 -19.43,7.62 -21.44,5.57C-23.46,3.53 -25.38,1.10 -26.92,-1.58C-28.47,-4.26 -29.96,-7.10 -30.72,-10.52C-31.49,-13.95 -31.38,-20.21 -31.51,-22.15Z" fill="#6baed6" stroke="#0b1c33" stroke-width="0.3" stroke-linejoin="round"/>
<path d="M-29.49,-20.36C-28.23,-20.87 -24.91,-22.56 -21.89,-23.38C-18.87,-24.20 -14.70,-24.86 -11.38,-25.28C-8.07,-25.70 -5.01,-25.99 -1.99,-25.91C1.03,-25.83 4.46,-25.52 6.73,-24.81C8.99,-24.11 10.19,-23.34 11.60,-21.68C13.01,-20.02 14.25,-16.98 15.18,-14.84C16.11,-12.70 17.45,-10.80 17.19,-8.85C16.93,-6.90 14.91,-5.16 13.62,-3.15C12.32,-1.13 10.91,1.08 9.41,3.23C7.91,5.37 6.22,7.55 4.60,9.71C2.99,11.87 1.24,14.26 -0.27,16.20C-1.78,18.13 -3.20,19.74 -4.45,21.34C-5.70,22.94 -7.07,26.54 -7.76,25.81C-8.45,25.08 -7.41,19.59 -8.59,16.98C-9.77,14.37 -12.82,12.13 -14.85,10.16C-16.88,8.18 -19.00,7.12 -20.77,5.13C-22.54,3.13 -24.15,0.73 -25.47,-1.80C-26.79,-4.34 -28.04,-6.98 -28.71,-10.08C-29.38,-13.17 -29.36,-18.65 -29.49,-20.36Z" fill="#4292c6" stroke="#0b1c33" stroke-width="0.3" stroke-linejoin="round"/>
<path d="M-27.48,-18.57C-26.29,-19.04 -23.12,-20.60 -20.33,-21.37C-17.53,-22.13 -13.75,-22.78 -10.71,-23.16C-7.67,-23.53 -4.77,-23.76 -2.10,-23.63C0.56,-23.50 3.36,-23.11 5.28,-22.37C7.19,-21.64 8.24,-20.74 9.41,-19.24C10.59,-17.75 11.61,-15.26 12.32,-13.43C13.03,-11.60 13.92,-10.04 13.66,-8.29C13.40,-6.54 11.85,-4.79 10.75,-2.92C9.65,-1.06 8.39,0.90 7.06,2.89C5.74,4.89 4.21,6.99 2.82,9.04C1.42,11.09 -0.05,13.42 -1.32,15.19C-2.59,16.96 -3.78,18.38 -4.79,19.66C-5.79,20.95 -6.72,23.52 -7.36,22.90C-7.99,22.29 -7.34,18.19 -8.59,15.97C-9.84,13.75 -12.93,11.48 -14.85,9.60C-16.77,7.72 -18.58,6.62 -20.10,4.68C-21.63,2.74 -22.92,0.36 -24.02,-2.03C-25.12,-4.41 -26.12,-6.87 -26.70,-9.63C-27.28,-12.39 -27.35,-17.08 -27.48,-18.57Z" fill="#2171b5" stroke="#0b1c33" stroke-width="0.3" stroke-linejoin="round"/>
<path d="M-25.47,-16.78C-24.35,-17.21 -21.33,-18.65 -18.76,-19.36C-16.19,-20.06 -12.80,-20.70 -10.04,-21.03C-7.28,-21.37 -4.53,-21.53 -2.22,-21.35C0.10,-21.16 2.25,-20.69 3.82,-19.94C5.39,-19.18 6.28,-18.13 7.22,-16.81C8.16,-15.49 8.97,-13.54 9.46,-12.02C9.94,-10.51 10.39,-9.28 10.13,-7.73C9.87,-6.18 8.79,-4.41 7.89,-2.70C6.99,-0.98 5.86,0.71 4.72,2.56C3.57,4.40 2.21,6.43 1.03,8.37C-0.15,10.31 -1.35,12.58 -2.37,14.18C-3.40,15.79 -4.36,17.02 -5.12,17.98C-5.89,18.95 -6.38,20.50 -6.96,20.00C-7.53,19.49 -7.27,16.79 -8.59,14.97C-9.90,13.14 -13.04,10.83 -14.85,9.04C-16.66,7.25 -18.15,6.12 -19.43,4.23C-20.72,2.35 -21.69,-0.02 -22.56,-2.25C-23.44,-4.49 -24.20,-6.76 -24.69,-9.18C-25.17,-11.60 -25.34,-15.52 -25.47,-16.78Z" fill="#08519c" stroke="#0b1c33" stroke-width="0.3" stroke-linejoin="round"/>
<path d="M-23.46,-15.00C-22.41,-15.39 -19.54,-16.69 -17.20,-17.34C-14.85,-18.00 -11.85,-18.62 -9.37,-18.91C-6.89,-19.20 -4.28,-19.30 -2.33,-19.07C-0.37,-18.83 1.14,-18.28 2.37,-17.50C3.59,-16.72 4.33,-15.52 5.03,-14.37C5.73,-13.22 6.33,-11.81 6.59,-10.61C6.86,-9.41 6.86,-8.53 6.59,-7.17C6.33,-5.81 5.73,-4.04 5.03,-2.47C4.33,-0.91 3.33,0.53 2.37,2.22C1.40,3.92 0.20,5.87 -0.76,7.70C-1.73,9.53 -2.64,11.74 -3.42,13.18C-4.21,14.61 -4.94,15.66 -5.46,16.31C-5.98,16.96 -6.03,17.48 -6.55,17.09C-7.07,16.70 -7.21,15.39 -8.59,13.96C-9.97,12.53 -13.15,10.18 -14.85,8.48C-16.54,6.79 -17.72,5.61 -18.76,3.79C-19.80,1.96 -20.46,-0.39 -21.11,-2.47C-21.76,-4.56 -22.28,-6.65 -22.67,-8.74C-23.07,-10.82 -23.33,-13.95 -23.46,-15.00Z" fill="#08306b" stroke="#0b1c33" stroke-width="0.3" stroke-linejoin="round"/>
<path d="M-11.25,-11.08C-10.81,-11.27 -9.37,-12.26 -8.59,-12.18C-7.81,-12.10 -6.81,-11.32 -6.55,-10.61C-6.29,-9.91 -6.50,-8.53 -7.02,-7.95C-7.54,-7.38 -8.93,-7.04 -9.68,-7.17C-10.44,-7.30 -11.30,-8.08 -11.56,-8.74C-11.82,-9.39 -11.30,-10.69 -11.25,-11.08Z" fill="none" stroke="#041a3d" stroke-width="0.35" stroke-linejoin="round"/>
<use href="#landhalo" stroke-width="3.0"/>
<use href="#landmain"/>
<use href="#Lellesmere" fill="#d9d9d9"/>
<use href="#Laxel" fill="#d9d9d9"/>
<use href="#Ldevon" fill="#d9d9d9"/>
<use href="#Lbaffin" fill="#d9d9d9"/>
<use href="#Lsouthampton" fill="#d9d9d9"/>
<use href="#Lbanks" fill="#d9d9d9"/>
<use href="#Lvictoria" fill="#d9d9d9"/>
<use href="#Lpwales" fill="#d9d9d9"/>
<use href="#Lsomerset" fill="#d9d9d9"/>
<use href="#landisl"/>
<path d="M-35.2,-17.3L-28.9,-14.2L-32.8,-12.6L-28.9,-9.5L-33.6,-8.0L-28.2,-5.3L-34.4,-4.4Z" fill="#06224d" stroke="none" stroke-width="0"/>
<path d="M-21.1,0.7L-14.8,4.1L-18.8,5.4L-12.5,8.8L-17.2,8.8Z" fill="#0a2a5c" stroke="none" stroke-width="0"/>
<g stroke="#777" stroke-width="0.4" stroke-dasharray="0.5 1.0" fill="none"><circle r="42.04"/><path d="M-0.00,-70.80L0.00,70.80M-61.31,-35.40L61.31,35.40M-61.31,35.40L61.31,-35.40"/></g>
</g>
<circle r="70.80" fill="none" stroke="#222" stroke-width="1.15"/>
<circle r="2.6" fill="#fff"/><circle r="1.3" fill="#000"/>
<text x="0" y="-73.40" class="ml" text-anchor="middle">180°</text>
<text x="0" y="80.40" class="ml" text-anchor="middle">0°</text>
<text transform="translate(-66.68,-38.50) rotate(-60)" class="ml" text-anchor="middle" dy="3">120°W</text>
<text transform="translate(66.68,-38.50) rotate(60)" class="ml" text-anchor="middle" dy="3">120°E</text>
<text transform="translate(-66.68,38.50) rotate(60)" class="ml" text-anchor="middle" dy="3">60°W</text>
<text transform="translate(66.68,38.50) rotate(-60)" class="ml" text-anchor="middle" dy="3">60°E</text>
<text x="-2.9" y="-39.14" class="ml75">-</text><text x="3.1" y="-39.14" class="ml75">75°N</text>
</g>
<text x="422.3" y="271.8" class="tag">(</text><text x="433.4" y="271.8" class="tag" text-anchor="middle">f</text><text x="443.8" y="271.8" class="tag" text-anchor="end">)</text>
<g transform="translate(330.60,535.50)">
<g clip-path="url(#mclip)">
<circle r="71.80" fill="#ee2c20"/>
<path d="M13.80,-60.23C14.43,-58.56 15.60,-53.01 17.56,-50.21C19.52,-47.42 23.57,-45.83 25.57,-43.45C27.58,-41.07 28.08,-38.44 29.58,-35.94C31.08,-33.43 33.25,-30.93 34.59,-28.42C35.92,-25.92 36.76,-23.75 37.59,-20.91C38.43,-18.07 39.18,-14.65 39.60,-11.39C40.01,-8.14 40.51,-3.88 40.10,-1.38C39.68,1.13 37.72,1.13 37.09,3.63C36.47,6.14 37.09,10.64 36.34,13.65C35.59,16.65 34.04,19.37 32.58,21.66C31.12,23.96 30.08,25.21 27.58,27.42C25.07,29.64 20.90,33.39 17.56,34.94C14.22,36.48 10.46,35.85 7.54,36.69C4.62,37.52 2.45,38.03 0.03,39.95C-2.39,41.87 -4.48,45.29 -6.99,48.21C-9.49,51.13 -12.20,54.05 -15.00,57.48C-17.80,60.90 -20.43,68.54 -23.76,68.75C-27.10,68.95 -32.32,63.32 -35.03,58.73C-37.75,54.14 -40.04,46.41 -40.04,41.20C-40.04,35.98 -33.78,29.59 -35.03,27.42C-36.29,25.25 -43.80,28.59 -47.56,28.17C-51.31,27.76 -55.28,26.71 -57.57,24.92C-59.87,23.12 -61.12,19.70 -61.33,17.41C-61.54,15.11 -59.03,13.86 -58.83,11.14C-58.62,8.43 -60.29,4.47 -60.08,1.13C-59.87,-2.21 -59.66,-6.05 -57.57,-8.89C-55.49,-11.73 -49.98,-13.31 -47.56,-15.90C-45.14,-18.49 -44.51,-21.83 -43.05,-24.42C-41.59,-27.01 -40.21,-29.09 -38.79,-31.43C-37.37,-33.77 -36.50,-36.27 -34.53,-38.44C-32.57,-40.61 -29.44,-43.12 -27.02,-44.45C-24.60,-45.79 -22.43,-45.87 -20.01,-46.46C-17.59,-47.04 -15.12,-47.50 -12.49,-47.96C-9.87,-48.42 -6.65,-48.79 -4.23,-49.21C-1.81,-49.63 -0.06,-50.05 2.03,-50.46C4.12,-50.88 6.71,-51.01 8.29,-51.72C9.88,-52.42 10.84,-53.68 11.55,-54.72C12.26,-55.76 12.17,-57.06 12.55,-57.98C12.92,-58.89 13.59,-59.85 13.80,-60.23Z" fill="#f98d66" stroke="#3a2a22" stroke-width="0.3" stroke-linejoin="round"/>
<path d="M2.53,-46.71C3.99,-46.71 8.58,-46.96 11.30,-46.71C14.01,-46.46 16.43,-46.41 18.81,-45.20C21.19,-43.99 23.48,-42.57 25.57,-39.44C27.66,-36.31 30.08,-30.89 31.33,-26.42C32.58,-21.95 32.88,-17.24 33.08,-12.65C33.29,-8.06 33.29,-3.05 32.58,1.13C31.87,5.30 30.37,9.14 28.83,12.40C27.28,15.65 25.40,18.03 23.32,20.66C21.23,23.29 18.60,26.09 16.31,28.17C14.01,30.26 11.84,31.64 9.54,33.18C7.25,34.73 4.74,36.10 2.53,37.44C0.32,38.78 -1.23,39.32 -3.73,41.20C-6.23,43.08 -9.36,45.37 -12.49,48.71C-15.63,52.05 -18.76,60.40 -22.51,61.23C-26.27,62.07 -32.32,58.31 -35.03,53.72C-37.75,49.13 -38.79,40.15 -38.79,33.68C-38.79,27.21 -34.20,18.45 -35.03,14.90C-35.87,11.35 -41.09,14.28 -43.80,12.40C-46.51,10.52 -49.85,6.97 -51.31,3.63C-52.77,0.29 -53.52,-4.09 -52.56,-7.64C-51.60,-11.19 -47.72,-14.19 -45.55,-17.66C-43.38,-21.12 -41.21,-25.29 -39.54,-28.42C-37.87,-31.56 -37.46,-34.18 -35.54,-36.44C-33.62,-38.69 -30.44,-40.61 -28.02,-41.95C-25.60,-43.28 -23.93,-43.83 -21.01,-44.45C-18.09,-45.08 -13.37,-45.37 -10.49,-45.70C-7.61,-46.04 -5.90,-46.29 -3.73,-46.46C-1.56,-46.62 1.49,-46.66 2.53,-46.71Z" fill="#fbb28a" stroke="#3a2a22" stroke-width="0.3" stroke-linejoin="round"/>
<path d="M7.04,-44.45C8.71,-43.74 14.26,-42.03 17.06,-40.20C19.85,-38.36 21.98,-36.15 23.82,-33.43C25.66,-30.72 27.12,-27.59 28.08,-23.92C29.04,-20.24 29.45,-15.57 29.58,-11.39C29.70,-7.22 29.58,-2.63 28.83,1.13C28.08,4.88 26.53,8.22 25.07,11.14C23.61,14.07 21.94,16.24 20.06,18.66C18.18,21.08 15.89,23.79 13.80,25.67C11.71,27.55 9.63,28.51 7.54,29.93C5.45,31.35 3.37,32.85 1.28,34.18C-0.81,35.52 -2.60,35.94 -4.98,37.94C-7.36,39.95 -10.28,42.95 -13.00,46.21C-15.71,49.46 -17.59,57.06 -21.26,57.48C-24.93,57.89 -32.32,53.51 -35.03,48.71C-37.75,43.91 -37.46,34.31 -37.54,28.68C-37.62,23.04 -34.28,17.82 -35.54,14.90C-36.79,11.98 -42.55,13.44 -45.05,11.14C-47.56,8.85 -49.52,4.47 -50.56,1.13C-51.60,-2.21 -52.31,-5.76 -51.31,-8.89C-50.31,-12.02 -46.85,-14.73 -44.55,-17.66C-42.26,-20.58 -39.33,-23.62 -37.54,-26.42C-35.74,-29.22 -35.79,-32.14 -33.78,-34.44C-31.78,-36.73 -28.56,-38.69 -25.52,-40.20C-22.47,-41.70 -18.92,-42.62 -15.50,-43.45C-12.08,-44.29 -8.74,-45.04 -4.98,-45.20C-1.23,-45.37 5.04,-44.58 7.04,-44.45Z" fill="#fbcfac" stroke="#3a2a22" stroke-width="0.3" stroke-linejoin="round"/>
<path d="M6.29,-40.95C7.75,-40.28 12.63,-38.73 15.05,-36.94C17.47,-35.14 19.23,-32.77 20.81,-30.18C22.40,-27.59 23.74,-24.75 24.57,-21.41C25.40,-18.07 25.74,-13.90 25.82,-10.14C25.91,-6.39 25.82,-2.09 25.07,1.13C24.32,4.34 22.65,6.64 21.31,9.14C19.98,11.65 18.73,13.94 17.06,16.15C15.39,18.37 13.22,20.54 11.30,22.41C9.38,24.29 7.42,25.88 5.54,27.42C3.66,28.97 1.86,30.43 0.03,31.68C-1.81,32.93 -3.23,32.93 -5.48,34.94C-7.74,36.94 -10.99,40.57 -13.50,43.70C-16.00,46.83 -17.13,53.30 -20.51,53.72C-23.89,54.14 -31.03,50.38 -33.78,46.21C-36.54,42.03 -36.66,33.89 -37.04,28.68C-37.41,23.46 -34.70,17.91 -36.04,14.90C-37.37,11.90 -42.80,12.94 -45.05,10.64C-47.31,8.35 -48.72,4.38 -49.56,1.13C-50.39,-2.13 -51.15,-5.97 -50.06,-8.89C-48.98,-11.81 -45.55,-13.90 -43.05,-16.40C-40.54,-18.91 -36.87,-21.41 -35.03,-23.92C-33.20,-26.42 -33.70,-29.26 -32.03,-31.43C-30.36,-33.60 -27.77,-35.48 -25.02,-36.94C-22.26,-38.40 -18.84,-39.36 -15.50,-40.20C-12.16,-41.03 -8.61,-41.82 -4.98,-41.95C-1.35,-42.07 4.41,-41.11 6.29,-40.95Z" fill="#fde6d2" stroke="#3a2a22" stroke-width="0.3" stroke-linejoin="round"/>
<path d="M5.04,-37.69C6.29,-37.06 10.46,-35.60 12.55,-33.93C14.64,-32.26 16.22,-30.18 17.56,-27.67C18.89,-25.17 19.81,-22.04 20.56,-18.91C21.31,-15.78 21.94,-12.02 22.07,-8.89C22.19,-5.76 21.98,-2.84 21.31,-0.13C20.65,2.59 19.31,5.09 18.06,7.39C16.81,9.68 15.47,11.56 13.80,13.65C12.13,15.74 9.92,18.16 8.04,19.91C6.16,21.66 4.28,22.79 2.53,24.17C0.78,25.54 -0.97,27.01 -2.48,28.17C-3.98,29.34 -5.23,31.30 -6.48,31.18C-7.74,31.05 -8.99,29.09 -9.99,27.42C-10.99,25.75 -11.24,23.46 -12.49,21.16C-13.75,18.87 -15.00,15.32 -17.50,13.65C-20.01,11.98 -24.18,12.06 -27.52,11.14C-30.86,10.23 -34.41,9.81 -37.54,8.14C-40.67,6.47 -44.55,3.88 -46.30,1.13C-48.06,-1.63 -48.89,-5.80 -48.06,-8.39C-47.22,-10.98 -43.05,-13.27 -41.30,-14.40C-39.54,-15.53 -39.00,-13.98 -37.54,-15.15C-36.08,-16.32 -33.78,-19.12 -32.53,-21.41C-31.28,-23.71 -31.49,-26.84 -30.03,-28.93C-28.56,-31.01 -26.27,-32.60 -23.76,-33.93C-21.26,-35.27 -18.13,-36.19 -15.00,-36.94C-11.87,-37.69 -8.32,-38.32 -4.98,-38.44C-1.64,-38.57 3.37,-37.82 5.04,-37.69Z" fill="#ffffff" stroke="#3a2a22" stroke-width="0.3" stroke-linejoin="round"/>
<path d="M-27.52,-17.66C-26.69,-18.70 -24.81,-22.46 -22.51,-23.92C-20.22,-25.38 -16.88,-26.00 -13.75,-26.42C-10.62,-26.84 -6.65,-27.05 -3.73,-26.42C-0.81,-25.80 1.82,-24.33 3.78,-22.66C5.75,-20.99 7.21,-18.70 8.04,-16.40C8.88,-14.11 9.08,-11.19 8.79,-8.89C8.50,-6.59 7.54,-4.30 6.29,-2.63C5.04,-0.96 3.16,0.08 1.28,1.13C-0.60,2.17 -2.89,2.80 -4.98,3.63C-7.07,4.47 -9.36,6.14 -11.24,6.14C-13.12,6.14 -15.00,5.30 -16.25,3.63C-17.50,1.96 -17.50,-1.79 -18.76,-3.88C-20.01,-5.97 -22.39,-7.43 -23.76,-8.89C-25.14,-10.35 -26.39,-11.19 -27.02,-12.65C-27.65,-14.11 -27.44,-16.82 -27.52,-17.66Z" fill="#dbeafa" stroke="#3a2a22" stroke-width="0.3" stroke-linejoin="round"/>
<path d="M-33.0,70.0L-25.9,60.9L-20.0,52.6L-13.6,43.2L-7.9,34.6L-4.0,28.3L2.8,23.9L9.0,17.6L15.3,11.3L20.7,5.1L23.1,-0.4L27.4,-3.1L33.3,4.9L35.6,13.2L45.9,29.4L57.6,33.7L67.6,38.7L52.6,68.7L0.0,91.3L-42.5,88.8Z" fill="#fbcfac" stroke="#3a2a22" stroke-width="0.3" stroke-linejoin="round"/>
<path d="M-31.0,71.2L-24.3,61.9L-18.8,53.5L-12.6,44.0L-7.0,35.6L-3.1,29.6L3.5,25.5L9.7,20.3L16.1,14.4L21.6,8.5L24.4,3.1L28.4,-0.4L33.6,6.3L35.7,13.3L45.9,29.4L57.6,33.7L67.6,38.7L52.6,68.7L0.0,91.3L-42.5,88.8Z" fill="#fbb28a" stroke="#3a2a22" stroke-width="0.3" stroke-linejoin="round"/>
<path d="M-28.9,72.5L-22.6,62.8L-17.5,54.3L-11.7,44.8L-6.2,36.5L-2.2,31.0L4.3,27.2L10.4,23.1L16.8,17.5L22.5,12.0L25.7,6.6L29.4,2.4L33.8,7.6L35.7,13.3L45.9,29.4L57.6,33.7L67.6,38.7L52.6,68.7L0.0,91.3L-42.5,88.8Z" fill="#f98d66" stroke="#3a2a22" stroke-width="0.3" stroke-linejoin="round"/>
<path d="M-26.9,73.8L-21.0,63.7L-16.3,55.2L-10.7,45.6L-5.4,37.4L-1.2,32.3L5.0,28.9L11.0,25.8L17.6,20.7L23.4,15.4L26.9,10.1L30.5,5.1L34.1,8.9L35.7,13.4L45.9,29.4L57.6,33.7L67.6,38.7L52.6,68.7L0.0,91.3L-42.5,88.8Z" fill="#f5593d" stroke="#3a2a22" stroke-width="0.3" stroke-linejoin="round"/>
<path d="M-24.9,75.0L-19.4,64.7L-15.0,56.1L-9.8,46.4L-4.5,38.4L-0.3,33.7L5.8,30.6L11.7,28.5L18.3,23.8L24.4,18.8L28.2,13.6L31.5,7.9L34.3,10.2L35.7,13.5L45.9,29.4L57.6,33.7L67.6,38.7L52.6,68.7L0.0,91.3L-42.5,88.8Z" fill="#ee2c20" stroke="#3a2a22" stroke-width="0.3" stroke-linejoin="round"/>
<path d="M-22.8,76.3L-17.8,65.6L-13.7,57.0L-8.9,47.1L-3.7,39.3L0.7,35.0L6.5,32.3L12.4,31.2L19.1,26.9L25.3,22.3L29.5,17.2L32.5,10.6L34.6,11.5L35.8,13.5L45.9,29.4L57.6,33.7L67.6,38.7L52.6,68.7L0.0,91.3L-42.5,88.8Z" fill="#cd171d" stroke="#3a2a22" stroke-width="0.3" stroke-linejoin="round"/>
<path d="M-20.8,77.5L-16.1,66.6L-12.5,57.9L-7.9,47.9L-2.8,40.3L1.6,36.3L7.3,34.0L13.1,34.0L19.8,30.1L26.2,25.7L30.8,20.7L33.6,13.4L34.8,12.8L35.8,13.6L45.9,29.4L57.6,33.7L67.6,38.7L52.6,68.7L0.0,91.3L-42.5,88.8Z" fill="#ad1224" stroke="#3a2a22" stroke-width="0.3" stroke-linejoin="round"/>
<path d="M-18.8,78.8L-14.5,67.5L-11.2,58.7L-7.0,48.7L-2.0,41.2L2.5,37.7L8.0,35.7L13.8,36.7L20.6,33.2L27.1,29.2L32.1,24.2L34.6,16.2L35.1,14.1L35.8,13.6L45.9,29.4L57.6,33.7L67.6,38.7L52.6,68.7L0.0,91.3L-42.5,88.8Z" fill="#951027" stroke="#3a2a22" stroke-width="0.3" stroke-linejoin="round"/>
<path d="M-7.4,85.8L-5.4,72.8L-4.2,63.6L-1.7,53.1L2.8,46.5L7.8,45.2L12.2,45.2L17.7,51.9L24.8,50.7L32.2,48.5L39.3,43.8L40.4,31.6L36.5,21.5L36.0,14.0L45.9,29.4L57.6,33.7L67.6,38.7L52.6,68.7L0.0,91.3L-42.5,88.8Z" fill="#7c0a2c" stroke="#3a2a22" stroke-width="0.3" stroke-linejoin="round"/>
<path d="M-15.50,-71.50C-13.83,-71.50 -7.07,-73.38 -5.48,-71.50C-3.90,-69.62 -5.57,-63.07 -5.98,-60.23C-6.40,-57.39 -7.15,-55.72 -7.99,-54.47C-8.82,-53.22 -10.07,-52.63 -10.99,-52.72C-11.91,-52.80 -12.83,-53.51 -13.50,-54.97C-14.16,-56.43 -14.67,-58.73 -15.00,-61.48C-15.33,-64.24 -15.42,-69.83 -15.50,-71.50Z" fill="#ad1224" stroke="#3a2a22" stroke-width="0.3" stroke-linejoin="round"/>
<path d="M-14.50,-71.50C-13.25,-71.50 -8.07,-72.75 -6.99,-71.50C-5.90,-70.25 -7.40,-65.74 -7.99,-63.99C-8.57,-62.23 -9.66,-61.19 -10.49,-60.98C-11.33,-60.77 -12.33,-60.98 -13.00,-62.73C-13.66,-64.49 -14.25,-70.04 -14.50,-71.50Z" fill="#951027" stroke="#3a2a22" stroke-width="0.3" stroke-linejoin="round"/>
<path d="M-70.60,9.14C-69.05,8.97 -63.08,7.18 -61.33,8.14C-59.58,9.10 -58.70,13.57 -60.08,14.90C-61.46,16.24 -67.84,17.11 -69.59,16.15C-71.35,15.19 -70.43,10.31 -70.60,9.14Z" fill="#ad1224" stroke="#3a2a22" stroke-width="0.3" stroke-linejoin="round"/>
<use href="#landhalo" stroke-width="4.2"/>
<use href="#landmain"/>
<use href="#Lellesmere" fill="#d9d9d9"/>
<use href="#Laxel" fill="#d9d9d9"/>
<use href="#Ldevon" fill="#d9d9d9"/>
<use href="#Lbaffin" fill="#d9d9d9"/>
<use href="#Lsouthampton" fill="#d9d9d9"/>
<use href="#Lbanks" fill="#d9d9d9"/>
<use href="#Lvictoria" fill="#ffffff"/>
<use href="#Lpwales" fill="#ffffff"/>
<use href="#Lsomerset" fill="#ffffff"/>
<use href="#landisl"/>
<path d="M-61.3,-10.6L-52.6,-11.4L-43.8,-9.6L-43.5,-8.4L-52.6,-9.9L-60.6,-9.1Z" fill="#f98d66" stroke="none" stroke-width="0"/>
<path d="M-58.8,0.4L-48.8,-0.1L-45.1,1.6L-48.8,1.6L-57.6,1.9Z" fill="#f98d66" stroke="none" stroke-width="0"/>
<path d="M-14.1,-70.0L-11.3,-69.4L-11.0,-66.6L-10.2,-65.0L-9.9,-60.6L-12.4,-56.2L-13.8,-59.0L-15.9,-62.2L-13.8,-65.3L-14.3,-67.2Z" fill="#ad1224" stroke="#3a2a22" stroke-width="0.25"/>
<path d="M-13.8,-70.3L-11.6,-69.7L-11.5,-66.9L-11.0,-65.0L-11.8,-61.9L-13.4,-63.4L-13.8,-66.1Z" fill="#7c0a2c" stroke="#3a2a22" stroke-width="0.25"/>
<g stroke="#777" stroke-width="0.4" stroke-dasharray="0.5 1.0" fill="none"><circle r="42.04"/><path d="M-0.00,-70.80L0.00,70.80M-61.31,-35.40L61.31,35.40M-61.31,35.40L61.31,-35.40"/></g>
</g>
<circle r="70.80" fill="none" stroke="#222" stroke-width="1.15"/>
<circle r="2.0" fill="#fff"/><circle r="1.25" fill="#000"/>
<text x="0" y="-73.40" class="ml" text-anchor="middle">180°</text>
<text x="0" y="80.40" class="ml" text-anchor="middle">0°</text>
<text transform="translate(-66.68,-38.50) rotate(-60)" class="ml" text-anchor="middle" dy="3">120°W</text>
<text transform="translate(66.68,-38.50) rotate(60)" class="ml" text-anchor="middle" dy="3">120°E</text>
<text transform="translate(-66.68,38.50) rotate(60)" class="ml" text-anchor="middle" dy="3">60°W</text>
<text transform="translate(66.68,38.50) rotate(-60)" class="ml" text-anchor="middle" dy="3">60°E</text>
<text x="-2.9" y="-39.14" class="ml75">-</text><text x="3.1" y="-39.14" class="ml75">75°N</text>
</g>
<text x="254.5" y="470.4" class="tag">(h)</text>
<g transform="translate(497.40,535.60)">
<g clip-path="url(#mclip)">
<circle r="71.80" fill="#f6faff"/>
<path d="M-29.75,-22.12C-28.97,-22.77 -27.14,-25.12 -25.05,-26.04C-22.97,-26.95 -20.10,-27.26 -17.23,-27.60C-14.36,-27.94 -10.70,-28.15 -7.84,-28.07C-4.97,-27.99 -2.36,-27.86 -0.01,-27.13C2.34,-26.40 4.69,-25.17 6.25,-23.69C7.82,-22.20 8.65,-20.17 9.38,-18.21C10.11,-16.25 10.76,-13.90 10.63,-11.95C10.50,-9.99 9.59,-7.91 8.60,-6.47C7.61,-5.04 5.99,-4.12 4.69,-3.34C3.38,-2.56 1.82,-2.56 0.77,-1.77C-0.27,-0.99 -1.05,-0.21 -1.57,1.36C-2.10,2.92 -2.36,5.53 -2.36,7.62C-2.36,9.70 -1.44,11.79 -1.57,13.88C-1.71,15.96 -2.36,18.57 -3.14,20.14C-3.92,21.70 -5.36,23.01 -6.27,23.27C-7.18,23.53 -8.36,23.01 -8.62,21.70C-8.88,20.40 -7.57,17.01 -7.84,15.44C-8.10,13.88 -9.01,13.36 -10.18,12.31C-11.36,11.27 -13.31,10.49 -14.88,9.18C-16.44,7.88 -17.88,6.31 -19.57,4.49C-21.27,2.66 -23.49,0.31 -25.05,-1.77C-26.62,-3.86 -28.05,-5.69 -28.97,-8.04C-29.88,-10.38 -30.40,-13.51 -30.53,-15.86C-30.66,-18.21 -29.88,-21.08 -29.75,-22.12Z" fill="#dbe8f5" stroke="#4f6b88" stroke-width="0.35" stroke-linejoin="round"/>
<path d="M-23.49,-16.64C-22.97,-17.17 -21.92,-18.99 -20.36,-19.77C-18.79,-20.56 -16.31,-21.21 -14.10,-21.34C-11.88,-21.47 -9.14,-21.21 -7.05,-20.56C-4.97,-19.90 -2.80,-18.73 -1.57,-17.43C-0.35,-16.12 0.30,-14.30 0.30,-12.73C0.30,-11.17 -0.48,-9.39 -1.57,-8.04C-2.67,-6.68 -4.91,-5.43 -6.27,-4.59C-7.63,-3.76 -8.54,-3.55 -9.71,-3.03C-10.89,-2.51 -12.32,-1.36 -13.31,-1.46C-14.30,-1.57 -15.14,-2.82 -15.66,-3.65C-16.18,-4.49 -15.53,-5.35 -16.44,-6.47C-17.36,-7.59 -19.97,-9.08 -21.14,-10.38C-22.31,-11.69 -23.10,-13.25 -23.49,-14.30C-23.88,-15.34 -23.49,-16.25 -23.49,-16.64Z" fill="#a8cde5" stroke="#2c4a68" stroke-width="0.4" stroke-linejoin="round"/>
<use href="#landhalo" stroke-width="3.0"/>
<use href="#landmain"/>
<use href="#Lellesmere" fill="#d9d9d9"/>
<use href="#Laxel" fill="#d9d9d9"/>
<use href="#Ldevon" fill="#d9d9d9"/>
<use href="#Lbaffin" fill="#d9d9d9"/>
<use href="#Lsouthampton" fill="#d9d9d9"/>
<use href="#Lbanks" fill="#d9d9d9"/>
<use href="#Lvictoria" fill="#d9d9d9"/>
<use href="#Lpwales" fill="#d9d9d9"/>
<use href="#Lsomerset" fill="#d9d9d9"/>
<use href="#landisl"/>
<path d="M-18.8,2.9L-11.7,7.6L-16.4,8.4L-10.2,12.6L-14.9,12.3Z" fill="#0a1f3f" stroke="none" stroke-width="0"/>
<path d="M-36.0,-15.1L-29.7,-11.9L-33.7,-10.4L-29.0,-7.3L-34.4,-6.5Z" fill="#7fb4dc" stroke="none" stroke-width="0"/>
<path d="M-45.4,28.0L-39.1,23.3L-38.4,24.5L-44.1,29.5Z" fill="#0a1f3f" stroke="none" stroke-width="0"/>
<g stroke="#777" stroke-width="0.4" stroke-dasharray="0.5 1.0" fill="none"><circle r="42.04"/><path d="M-0.00,-70.80L0.00,70.80M-61.31,-35.40L61.31,35.40M-61.31,35.40L61.31,-35.40"/></g>
</g>
<circle r="70.80" fill="none" stroke="#222" stroke-width="1.15"/>
<circle r="1.3" fill="#000"/>
<text x="0" y="-73.40" class="ml" text-anchor="middle">180°</text>
<text x="0" y="80.40" class="ml" text-anchor="middle">0°</text>
<text transform="translate(-66.68,-38.50) rotate(-60)" class="ml" text-anchor="middle" dy="3">120°W</text>
<text transform="translate(66.68,-38.50) rotate(60)" class="ml" text-anchor="middle" dy="3">120°E</text>
<text transform="translate(-66.68,38.50) rotate(60)" class="ml" text-anchor="middle" dy="3">60°W</text>
<text transform="translate(66.68,38.50) rotate(-60)" class="ml" text-anchor="middle" dy="3">60°E</text>
<text x="-2.9" y="-39.14" class="ml75">-</text><text x="3.1" y="-39.14" class="ml75">75°N</text>
</g>
<text x="422.3" y="470.4" class="tag">(</text><text x="432.5" y="470.4" class="tag" text-anchor="middle">i</text><text x="442.7" y="470.4" class="tag" text-anchor="end">)</text>
<g transform="translate(331.00,736.60)">
<g clip-path="url(#mclip)">
<circle r="71.80" fill="#ee2c20"/>
<path d="M-10.89,-47.56C-9.51,-48.06 -4.71,-49.69 -2.63,-50.56C-0.54,-51.44 -0.46,-52.61 1.63,-52.82C3.72,-53.03 7.10,-52.69 9.90,-51.82C12.69,-50.94 16.32,-49.31 18.41,-47.56C20.50,-45.80 21.21,-43.38 22.42,-41.30C23.63,-39.21 24.25,-37.29 25.67,-35.04C27.09,-32.78 29.55,-30.19 30.93,-27.77C32.31,-25.35 33.27,-23.14 33.94,-20.51C34.60,-17.88 35.02,-14.54 34.94,-12.00C34.86,-9.45 34.48,-7.65 33.44,-5.23C32.39,-2.81 29.97,0.03 28.68,2.53C27.38,5.03 26.88,7.33 25.67,9.79C24.46,12.26 23.00,15.01 21.42,17.31C19.83,19.60 18.08,21.48 16.16,23.57C14.24,25.65 11.98,28.28 9.90,29.83C7.81,31.37 5.51,31.87 3.63,32.83C1.76,33.79 0.34,34.63 -1.37,35.59C-3.09,36.55 -5.05,37.84 -6.63,38.59C-8.22,39.34 -9.76,40.72 -10.89,40.10C-12.02,39.47 -12.02,37.38 -13.40,34.84C-14.77,32.29 -15.48,27.70 -19.16,24.82C-22.83,21.94 -30.97,19.02 -35.43,17.56C-39.90,16.10 -43.66,17.56 -45.95,16.05C-48.25,14.55 -48.25,11.04 -49.21,8.54C-50.17,6.04 -51.30,3.95 -51.71,1.03C-52.13,-1.89 -52.76,-5.86 -51.71,-8.99C-50.67,-12.12 -47.20,-15.50 -45.45,-17.76C-43.70,-20.01 -42.45,-20.13 -41.19,-22.51C-39.94,-24.89 -39.52,-29.23 -37.94,-32.03C-36.35,-34.83 -34.10,-37.42 -31.68,-39.29C-29.26,-41.17 -25.83,-42.26 -23.41,-43.30C-20.99,-44.34 -19.24,-44.84 -17.15,-45.55C-15.07,-46.26 -11.93,-47.22 -10.89,-47.56Z" fill="#f5593d" stroke="#f5593d" stroke-width="2.6" stroke-linejoin="round"/>
<path d="M-10.89,-47.56C-9.51,-48.06 -4.71,-49.69 -2.63,-50.56C-0.54,-51.44 -0.46,-52.61 1.63,-52.82C3.72,-53.03 7.10,-52.69 9.90,-51.82C12.69,-50.94 16.32,-49.31 18.41,-47.56C20.50,-45.80 21.21,-43.38 22.42,-41.30C23.63,-39.21 24.25,-37.29 25.67,-35.04C27.09,-32.78 29.55,-30.19 30.93,-27.77C32.31,-25.35 33.27,-23.14 33.94,-20.51C34.60,-17.88 35.02,-14.54 34.94,-12.00C34.86,-9.45 34.48,-7.65 33.44,-5.23C32.39,-2.81 29.97,0.03 28.68,2.53C27.38,5.03 26.88,7.33 25.67,9.79C24.46,12.26 23.00,15.01 21.42,17.31C19.83,19.60 18.08,21.48 16.16,23.57C14.24,25.65 11.98,28.28 9.90,29.83C7.81,31.37 5.51,31.87 3.63,32.83C1.76,33.79 0.34,34.63 -1.37,35.59C-3.09,36.55 -5.05,37.84 -6.63,38.59C-8.22,39.34 -9.76,40.72 -10.89,40.10C-12.02,39.47 -12.02,37.38 -13.40,34.84C-14.77,32.29 -15.48,27.70 -19.16,24.82C-22.83,21.94 -30.97,19.02 -35.43,17.56C-39.90,16.10 -43.66,17.56 -45.95,16.05C-48.25,14.55 -48.25,11.04 -49.21,8.54C-50.17,6.04 -51.30,3.95 -51.71,1.03C-52.13,-1.89 -52.76,-5.86 -51.71,-8.99C-50.67,-12.12 -47.20,-15.50 -45.45,-17.76C-43.70,-20.01 -42.45,-20.13 -41.19,-22.51C-39.94,-24.89 -39.52,-29.23 -37.94,-32.03C-36.35,-34.83 -34.10,-37.42 -31.68,-39.29C-29.26,-41.17 -25.83,-42.26 -23.41,-43.30C-20.99,-44.34 -19.24,-44.84 -17.15,-45.55C-15.07,-46.26 -11.93,-47.22 -10.89,-47.56Z" fill="#f98d66" stroke="#3a2a22" stroke-width="0.3" stroke-linejoin="round"/>
<path d="M-10.89,-39.29C-9.31,-39.34 -4.51,-39.75 -1.37,-39.54C1.76,-39.34 5.14,-38.96 7.89,-38.04C10.65,-37.12 13.07,-35.75 15.15,-34.03C17.24,-32.32 18.99,-30.03 20.41,-27.77C21.83,-25.52 22.96,-23.14 23.67,-20.51C24.38,-17.88 24.67,-14.79 24.67,-12.00C24.67,-9.20 24.04,-5.48 23.67,-3.73C23.29,-1.98 22.79,-3.06 22.42,-1.48C22.04,0.11 22.08,3.36 21.42,5.79C20.75,8.21 19.79,10.63 18.41,13.05C17.03,15.47 15.07,18.06 13.15,20.31C11.23,22.56 8.98,24.99 6.89,26.57C4.80,28.16 2.55,28.95 0.63,29.83C-1.29,30.70 -3.04,31.83 -4.63,31.83C-6.22,31.83 -7.76,31.20 -8.89,29.83C-10.01,28.45 -9.68,26.07 -11.39,23.57C-13.10,21.06 -15.98,16.89 -19.16,14.80C-22.33,12.71 -27.30,12.92 -30.43,11.04C-33.56,9.17 -36.27,6.45 -37.94,3.53C-39.61,0.61 -40.78,-3.19 -40.44,-6.49C-40.11,-9.78 -37.02,-13.08 -35.94,-16.25C-34.85,-19.43 -35.14,-22.72 -33.93,-25.52C-32.72,-28.32 -30.97,-31.11 -28.67,-33.03C-26.38,-34.95 -23.12,-36.00 -20.16,-37.04C-17.19,-38.08 -12.44,-38.92 -10.89,-39.29Z" fill="#fbc09a" stroke="#3a2a22" stroke-width="0.3" stroke-linejoin="round"/>
<path d="M-8.89,-31.28C-7.47,-31.20 -2.84,-31.36 -0.37,-30.78C2.09,-30.19 4.18,-29.32 5.89,-27.77C7.60,-26.23 8.85,-23.77 9.90,-21.51C10.94,-19.26 11.73,-16.88 12.15,-14.25C12.57,-11.62 12.40,-7.86 12.40,-5.73C12.40,-3.61 12.40,-3.23 12.15,-1.48C11.90,0.28 11.61,2.53 10.90,4.78C10.19,7.04 9.10,9.79 7.89,12.05C6.68,14.30 5.22,16.93 3.63,18.31C2.05,19.68 0.04,20.31 -1.63,20.31C-3.29,20.31 -4.84,19.35 -6.38,18.31C-7.93,17.26 -9.26,15.64 -10.89,14.05C-12.52,12.46 -14.15,10.54 -16.15,8.79C-18.15,7.04 -20.95,5.45 -22.91,3.53C-24.87,1.61 -26.79,-0.14 -27.92,-2.73C-29.05,-5.32 -29.55,-9.03 -29.67,-12.00C-29.80,-14.96 -29.55,-18.05 -28.67,-20.51C-27.80,-22.97 -26.34,-25.23 -24.41,-26.77C-22.49,-28.32 -19.74,-29.03 -17.15,-29.78C-14.56,-30.53 -10.27,-31.03 -8.89,-31.28Z" fill="#fde2cc" stroke="#3a2a22" stroke-width="0.3" stroke-linejoin="round"/>
<path d="M-44.2,64.9L-31.7,55.6L-16.2,50.6L-10.9,45.4L-6.4,42.3L-1.4,39.1L3.6,36.1L10.9,32.8L16.2,27.6L22.4,22.3L28.7,15.1L32.9,6.8L39.7,3.5L57.2,13.5L67.2,33.6L52.2,68.6L-0.4,91.2L-42.9,88.7Z" fill="#cd171d" stroke="#3a2a22" stroke-width="0.3" stroke-linejoin="round"/>
<path d="M-31.7,73.0L-22.8,64.0L-13.8,55.6L-9.6,48.7L-4.9,43.7L0.1,39.7L5.8,37.1L12.5,34.5L18.3,28.7L24.5,21.9L30.3,16.2L35.1,10.9L41.6,11.0L57.2,14.2L67.2,33.6L52.2,68.6L-0.4,91.2L-42.9,88.7Z" fill="#ad1224" stroke="#3a2a22" stroke-width="0.3" stroke-linejoin="round"/>
<path d="M-19.2,81.2L-13.9,72.4L-11.4,60.6L-8.4,52.1L-3.4,45.1L1.6,40.3L7.9,38.1L14.2,36.1L20.4,29.8L26.7,21.6L31.9,17.3L37.2,15.1L43.5,18.6L57.2,14.8L67.2,33.6L52.2,68.6L-0.4,91.2L-42.9,88.7Z" fill="#951027" stroke="#3a2a22" stroke-width="0.3" stroke-linejoin="round"/>
<path d="M15.9,104.0L11.0,95.9L-4.7,74.7L-4.9,61.6L0.8,49.0L5.8,42.1L13.9,40.9L18.7,40.6L26.4,33.0L32.6,20.5L36.5,20.5L43.2,26.6L48.7,39.6L57.2,16.6L67.2,33.6L52.2,68.6L-0.4,91.2L-42.9,88.7Z" fill="#7c0a2c" stroke="#3a2a22" stroke-width="0.3" stroke-linejoin="round"/>
<path d="M-16.40,-71.60C-14.48,-71.60 -6.72,-73.69 -4.88,-71.60C-3.04,-69.51 -4.96,-62.42 -5.38,-59.08C-5.80,-55.74 -6.47,-53.15 -7.39,-51.56C-8.30,-49.98 -9.81,-49.14 -10.89,-49.56C-11.98,-49.98 -13.06,-52.07 -13.90,-54.07C-14.73,-56.07 -15.48,-58.66 -15.90,-61.58C-16.32,-64.50 -16.32,-69.93 -16.40,-71.60Z" fill="#ad1224" stroke="#3a2a22" stroke-width="0.3" stroke-linejoin="round"/>
<path d="M-15.90,-71.60C-14.73,-71.60 -9.89,-73.27 -8.89,-71.60C-7.89,-69.93 -9.31,-63.92 -9.89,-61.58C-10.47,-59.25 -11.56,-57.58 -12.39,-57.58C-13.23,-57.58 -14.31,-59.25 -14.90,-61.58C-15.48,-63.92 -15.73,-69.93 -15.90,-71.60Z" fill="#951027" stroke="#3a2a22" stroke-width="0.3" stroke-linejoin="round"/>
<path d="M-71.00,8.54C-70.08,8.46 -66.61,7.20 -65.49,8.04C-64.36,8.87 -63.40,12.42 -64.23,13.55C-65.07,14.68 -69.37,15.64 -70.50,14.80C-71.62,13.97 -70.91,9.58 -71.00,8.54Z" fill="#ad1224" stroke="#3a2a22" stroke-width="0.3" stroke-linejoin="round"/>
<use href="#landhalo" stroke-width="4.2"/>
<use href="#landmain"/>
<use href="#Lellesmere" fill="#d9d9d9"/>
<use href="#Laxel" fill="#d9d9d9"/>
<use href="#Ldevon" fill="#d9d9d9"/>
<use href="#Lbaffin" fill="#d9d9d9"/>
<use href="#Lsouthampton" fill="#d9d9d9"/>
<use href="#Lbanks" fill="#d9d9d9"/>
<use href="#Lvictoria" fill="#ffffff"/>
<use href="#Lpwales" fill="#ffffff"/>
<use href="#Lsomerset" fill="#ffffff"/>
<use href="#landisl"/>
<ellipse cx="-12.8" cy="-3.8" rx="12.0" ry="1.4" transform="rotate(16 -12.8 -3.8)" fill="none" stroke="#555" stroke-width="0.5"/>
<ellipse cx="7.5" cy="2.0" rx="5.6" ry="1.1" transform="rotate(12 7.5 2.0)" fill="none" stroke="#555" stroke-width="0.5"/>
<path d="M-61.7,-10.7L-53.0,-11.5L-44.2,-9.7L-43.9,-8.5L-53.0,-10.0L-61.0,-9.2Z" fill="#ee2c20" stroke="none" stroke-width="0"/>
<path d="M-59.2,0.3L-49.2,-0.2L-45.5,1.5L-49.2,1.5L-58.0,1.8Z" fill="#ee2c20" stroke="none" stroke-width="0"/>
<path d="M-14.1,-70.0L-11.3,-69.4L-11.0,-66.6L-10.2,-65.0L-9.9,-60.6L-12.4,-56.2L-13.8,-59.0L-15.9,-62.2L-13.8,-65.3L-14.3,-67.2Z" fill="#ad1224" stroke="#3a2a22" stroke-width="0.25"/>
<path d="M-13.8,-70.3L-11.6,-69.7L-11.5,-66.9L-11.0,-65.0L-11.8,-61.9L-13.4,-63.4L-13.8,-66.1Z" fill="#7c0a2c" stroke="#3a2a22" stroke-width="0.25"/>
<g stroke="#777" stroke-width="0.4" stroke-dasharray="0.5 1.0" fill="none"><circle r="42.04"/><path d="M-0.00,-70.80L0.00,70.80M-61.31,-35.40L61.31,35.40M-61.31,35.40L61.31,-35.40"/></g>
</g>
<circle r="70.80" fill="none" stroke="#222" stroke-width="1.15"/>
<circle r="2.0" fill="#fff"/><circle r="1.25" fill="#000"/>
<text x="0" y="-73.40" class="ml" text-anchor="middle">180°</text>
<text x="0" y="80.40" class="ml" text-anchor="middle">0°</text>
<text transform="translate(-66.68,-38.50) rotate(-60)" class="ml" text-anchor="middle" dy="3">120°W</text>
<text transform="translate(66.68,-38.50) rotate(60)" class="ml" text-anchor="middle" dy="3">120°E</text>
<text transform="translate(-66.68,38.50) rotate(60)" class="ml" text-anchor="middle" dy="3">60°W</text>
<text transform="translate(66.68,38.50) rotate(-60)" class="ml" text-anchor="middle" dy="3">60°E</text>
<text x="-2.9" y="-39.14" class="ml75">-</text><text x="3.1" y="-39.14" class="ml75">75°N</text>
</g>
<text x="253.2" y="672.5" class="tag">(k)</text>
<g transform="translate(495.90,736.90)">
<g clip-path="url(#mclip)">
<circle r="71.80" fill="#f6faff"/>
<use href="#landhalo" stroke-width="3.0"/>
<use href="#landmain"/>
<use href="#Lellesmere" fill="#d9d9d9"/>
<use href="#Laxel" fill="#d9d9d9"/>
<use href="#Ldevon" fill="#d9d9d9"/>
<use href="#Lbaffin" fill="#d9d9d9"/>
<use href="#Lsouthampton" fill="#d9d9d9"/>
<use href="#Lbanks" fill="#d9d9d9"/>
<use href="#Lvictoria" fill="#d9d9d9"/>
<use href="#Lpwales" fill="#d9d9d9"/>
<use href="#Lsomerset" fill="#d9d9d9"/>
<use href="#landisl"/>
<g stroke="#777" stroke-width="0.4" stroke-dasharray="0.5 1.0" fill="none"><circle r="42.04"/><path d="M-0.00,-70.80L0.00,70.80M-61.31,-35.40L61.31,35.40M-61.31,35.40L61.31,-35.40"/></g>
</g>
<circle r="70.80" fill="none" stroke="#222" stroke-width="1.15"/>
<circle r="1.3" fill="#000"/>
<text x="0" y="-73.40" class="ml" text-anchor="middle">180°</text>
<text x="0" y="80.40" class="ml" text-anchor="middle">0°</text>
<text transform="translate(-66.68,-38.50) rotate(-60)" class="ml" text-anchor="middle" dy="3">120°W</text>
<text transform="translate(66.68,-38.50) rotate(60)" class="ml" text-anchor="middle" dy="3">120°E</text>
<text transform="translate(-66.68,38.50) rotate(60)" class="ml" text-anchor="middle" dy="3">60°W</text>
<text transform="translate(66.68,38.50) rotate(-60)" class="ml" text-anchor="middle" dy="3">60°E</text>
<text x="-2.9" y="-39.14" class="ml75">-</text><text x="3.1" y="-39.14" class="ml75">75°N</text>
</g>
<text x="420.4" y="672.5" class="tag">(</text><text x="430.4" y="672.5" class="tag" text-anchor="middle">l</text><text x="440.1" y="672.5" class="tag" text-anchor="end">)</text>
<rect x="260.3" y="822.9" width="142.3" height="9.5" fill="url(#gsst)"/>
<path d="M260.30,832.1v-2" stroke="#555" stroke-width="0.6"/>
<text x="260.30" y="847.8" class="cb" text-anchor="middle">-10</text>
<path d="M295.88,832.1v-2" stroke="#555" stroke-width="0.6"/>
<text x="295.88" y="847.8" class="cb" text-anchor="middle">-5</text>
<path d="M331.45,832.1v-2" stroke="#555" stroke-width="0.6"/>
<text x="331.45" y="847.8" class="cb" text-anchor="middle">0</text>
<path d="M367.03,832.1v-2" stroke="#555" stroke-width="0.6"/>
<text x="367.03" y="847.8" class="cb" text-anchor="middle">5</text>
<path d="M402.60,832.1v-2" stroke="#555" stroke-width="0.6"/>
<text x="402.60" y="847.8" class="cb" text-anchor="middle">10</text>
<rect x="424.5" y="822.9" width="143" height="9.5" fill="url(#gsic)" stroke="#9a9a9a" stroke-width="0.8"/>
<path d="M424.50,832.3v-2" stroke="#555" stroke-width="0.6"/>
<text x="424.50" y="847.8" class="cb" text-anchor="middle">0</text>
<path d="M448.33,832.3v-2" stroke="#555" stroke-width="0.6"/>
<text x="448.33" y="847.8" class="cb" text-anchor="middle">5</text>
<path d="M472.17,832.3v-2" stroke="#555" stroke-width="0.6"/>
<text x="472.17" y="847.8" class="cb" text-anchor="middle">10</text>
<path d="M496.00,832.3v-2" stroke="#555" stroke-width="0.6"/>
<text x="496.00" y="847.8" class="cb" text-anchor="middle">15</text>
<path d="M519.83,832.3v-2" stroke="#555" stroke-width="0.6"/>
<text x="519.83" y="847.8" class="cb" text-anchor="middle">20</text>
<path d="M543.67,832.3v-2" stroke="#555" stroke-width="0.6"/>
<text x="543.67" y="847.8" class="cb" text-anchor="middle">25</text>
<path d="M567.50,832.3v-2" stroke="#555" stroke-width="0.6"/>
<text x="567.50" y="847.8" class="cb" text-anchor="middle">30</text>
<text x="390.6" y="816.9" class="un" text-anchor="middle">(°C)</text>
<text x="557" y="816.9" class="un" text-anchor="middle">(%)</text>
</svg></body></html>
